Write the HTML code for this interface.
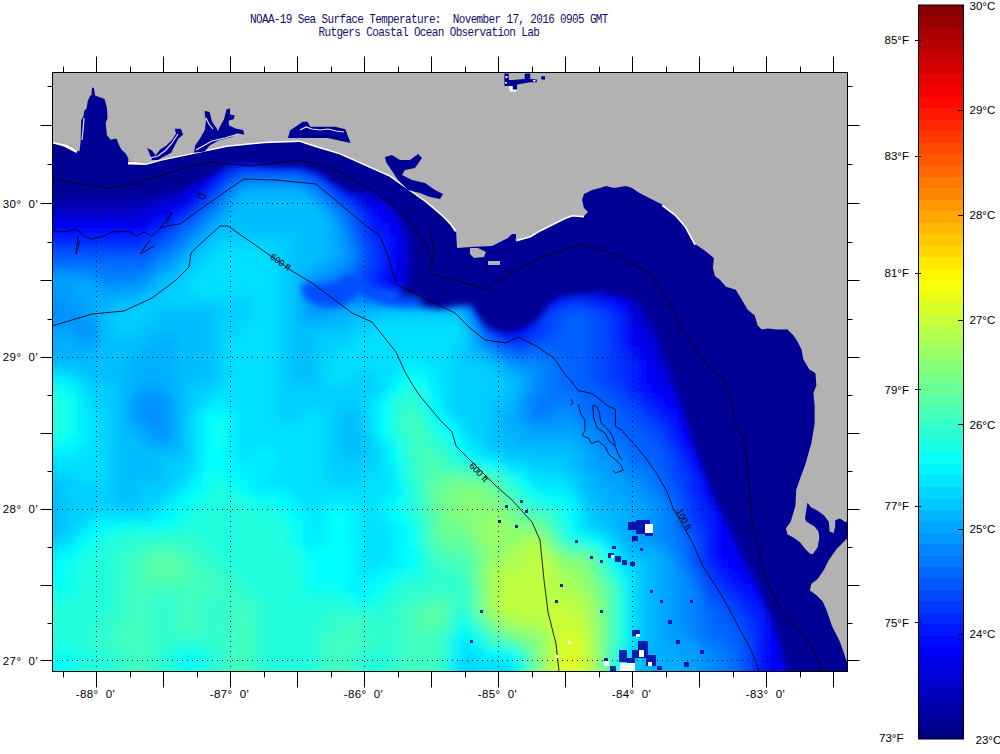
<!DOCTYPE html><html><head><meta charset="utf-8"><title>NOAA-19 SST</title><style>html,body{margin:0;padding:0;background:#fff;width:1000px;height:754px;overflow:hidden}svg{display:block}</style></head><body><svg width="1000" height="754" viewBox="0 0 1000 754"><defs><clipPath id="cp"><rect x="52.5" y="72.5" width="795" height="599"/></clipPath><filter id="bl" x="-5%" y="-5%" width="110%" height="110%"><feGaussianBlur stdDeviation="6"/></filter><filter id="bl2" x="-5%" y="-5%" width="110%" height="110%"><feGaussianBlur stdDeviation="3"/></filter></defs><rect width="1000" height="754" fill="#fff"/><g font-family="'Liberation Mono', monospace" font-size="11" fill="#10106a" letter-spacing="-0.63"><text x="250" y="23" transform="translate(0,23) scale(1,1.14) translate(0,-23)">NOAA-19 Sea Surface Temperature:&#160; November 17, 2016 0905 GMT</text><text x="318.5" y="36" transform="translate(0,36) scale(1,1.14) translate(0,-36)">Rutgers Coastal Ocean Observation Lab</text></g><g clip-path="url(#cp)"><g filter="url(#bl)"><rect x="2" y="22" width="900.5" height="13" fill="#00008f"/><rect x="2" y="34.5" width="900.5" height="13" fill="#00008f"/><rect x="2" y="47" width="900.5" height="13" fill="#00008f"/><rect x="2" y="59.5" width="900.5" height="13" fill="#00008f"/><rect x="2" y="72" width="900.5" height="13" fill="#00008f"/><rect x="2" y="84.5" width="900.5" height="13" fill="#00008f"/><rect x="2" y="97" width="900.5" height="13" fill="#00008f"/><rect x="2" y="109.5" width="900.5" height="13" fill="#00008f"/><rect x="2" y="122" width="900.5" height="13" fill="#00008f"/><rect x="2" y="134.5" width="225.5" height="13" fill="#00008f"/><rect x="227" y="134.5" width="75.5" height="13" fill="#00009f"/><rect x="302" y="134.5" width="600.5" height="13" fill="#00008f"/><rect x="2" y="147" width="213" height="13" fill="#00008f"/><rect x="214.5" y="147" width="13" height="13" fill="#00009f"/><rect x="227" y="147" width="75.5" height="13" fill="#0000af"/><rect x="302" y="147" width="13" height="13" fill="#00009f"/><rect x="314.5" y="147" width="588" height="13" fill="#00008f"/><rect x="2" y="159.5" width="175.5" height="13" fill="#00008f"/><rect x="177" y="159.5" width="25.5" height="13" fill="#00009f"/><rect x="202" y="159.5" width="13" height="13" fill="#0000af"/><rect x="214.5" y="159.5" width="13" height="13" fill="#0000bf"/><rect x="227" y="159.5" width="13" height="13" fill="#0000df"/><rect x="239.5" y="159.5" width="50.5" height="13" fill="#0000ff"/><rect x="289.5" y="159.5" width="13" height="13" fill="#0000ef"/><rect x="302" y="159.5" width="13" height="13" fill="#0000df"/><rect x="314.5" y="159.5" width="13" height="13" fill="#0000bf"/><rect x="327" y="159.5" width="13" height="13" fill="#0000af"/><rect x="339.5" y="159.5" width="25.5" height="13" fill="#00009f"/><rect x="364.5" y="159.5" width="538" height="13" fill="#00008f"/><rect x="2" y="172" width="163" height="13" fill="#00008f"/><rect x="164.5" y="172" width="13" height="13" fill="#00009f"/><rect x="177" y="172" width="13" height="13" fill="#0000af"/><rect x="189.5" y="172" width="13" height="13" fill="#0000bf"/><rect x="202" y="172" width="13" height="13" fill="#0000df"/><rect x="214.5" y="172" width="13" height="13" fill="#0010ff"/><rect x="227" y="172" width="13" height="13" fill="#0050ff"/><rect x="239.5" y="172" width="63" height="13" fill="#0070ff"/><rect x="302" y="172" width="13" height="13" fill="#0050ff"/><rect x="314.5" y="172" width="13" height="13" fill="#0030ff"/><rect x="327" y="172" width="13" height="13" fill="#0000ef"/><rect x="339.5" y="172" width="13" height="13" fill="#0000bf"/><rect x="352" y="172" width="13" height="13" fill="#00009f"/><rect x="364.5" y="172" width="538" height="13" fill="#00008f"/><rect x="2" y="184.5" width="163" height="13" fill="#00009f"/><rect x="164.5" y="184.5" width="13" height="13" fill="#0000af"/><rect x="177" y="184.5" width="13" height="13" fill="#0000bf"/><rect x="189.5" y="184.5" width="13" height="13" fill="#0000ef"/><rect x="202" y="184.5" width="13" height="13" fill="#0010ff"/><rect x="214.5" y="184.5" width="13" height="13" fill="#0050ff"/><rect x="227" y="184.5" width="13" height="13" fill="#008fff"/><rect x="239.5" y="184.5" width="63" height="13" fill="#00afff"/><rect x="302" y="184.5" width="13" height="13" fill="#009fff"/><rect x="314.5" y="184.5" width="13" height="13" fill="#0070ff"/><rect x="327" y="184.5" width="13" height="13" fill="#0030ff"/><rect x="339.5" y="184.5" width="13" height="13" fill="#0000ff"/><rect x="352" y="184.5" width="13" height="13" fill="#0000cf"/><rect x="364.5" y="184.5" width="25.5" height="13" fill="#0000af"/><rect x="389.5" y="184.5" width="25.5" height="13" fill="#00009f"/><rect x="414.5" y="184.5" width="488" height="13" fill="#00008f"/><rect x="2" y="197" width="138" height="13" fill="#0000af"/><rect x="139.5" y="197" width="13" height="13" fill="#0000bf"/><rect x="152" y="197" width="13" height="13" fill="#0000cf"/><rect x="164.5" y="197" width="13" height="13" fill="#0000df"/><rect x="177" y="197" width="13" height="13" fill="#0000ef"/><rect x="189.5" y="197" width="13" height="13" fill="#0010ff"/><rect x="202" y="197" width="13" height="13" fill="#0050ff"/><rect x="214.5" y="197" width="13" height="13" fill="#0080ff"/><rect x="227" y="197" width="13" height="13" fill="#00afff"/><rect x="239.5" y="197" width="75.5" height="13" fill="#00bfff"/><rect x="314.5" y="197" width="13" height="13" fill="#009fff"/><rect x="327" y="197" width="13" height="13" fill="#0070ff"/><rect x="339.5" y="197" width="13" height="13" fill="#0040ff"/><rect x="352" y="197" width="13" height="13" fill="#0010ff"/><rect x="364.5" y="197" width="13" height="13" fill="#0000ef"/><rect x="377" y="197" width="13" height="13" fill="#0000df"/><rect x="389.5" y="197" width="13" height="13" fill="#0000bf"/><rect x="402" y="197" width="13" height="13" fill="#00009f"/><rect x="414.5" y="197" width="488" height="13" fill="#00008f"/><rect x="2" y="209.5" width="138" height="13" fill="#0000cf"/><rect x="139.5" y="209.5" width="13" height="13" fill="#0000df"/><rect x="152" y="209.5" width="13" height="13" fill="#0000ef"/><rect x="164.5" y="209.5" width="13" height="13" fill="#0000ff"/><rect x="177" y="209.5" width="13" height="13" fill="#0020ff"/><rect x="189.5" y="209.5" width="13" height="13" fill="#0050ff"/><rect x="202" y="209.5" width="13" height="13" fill="#0080ff"/><rect x="214.5" y="209.5" width="13" height="13" fill="#009fff"/><rect x="227" y="209.5" width="100.5" height="13" fill="#00bfff"/><rect x="327" y="209.5" width="13" height="13" fill="#009fff"/><rect x="339.5" y="209.5" width="13" height="13" fill="#0070ff"/><rect x="352" y="209.5" width="13" height="13" fill="#0040ff"/><rect x="364.5" y="209.5" width="13" height="13" fill="#0010ff"/><rect x="377" y="209.5" width="13" height="13" fill="#0000ff"/><rect x="389.5" y="209.5" width="13" height="13" fill="#0000df"/><rect x="402" y="209.5" width="13" height="13" fill="#0000af"/><rect x="414.5" y="209.5" width="13" height="13" fill="#00009f"/><rect x="427" y="209.5" width="475.5" height="13" fill="#00008f"/><rect x="2" y="222" width="150.5" height="13" fill="#0000ff"/><rect x="152" y="222" width="13" height="13" fill="#0020ff"/><rect x="164.5" y="222" width="13" height="13" fill="#0030ff"/><rect x="177" y="222" width="13" height="13" fill="#0060ff"/><rect x="189.5" y="222" width="13" height="13" fill="#0080ff"/><rect x="202" y="222" width="13" height="13" fill="#009fff"/><rect x="214.5" y="222" width="113" height="13" fill="#00bfff"/><rect x="327" y="222" width="13" height="13" fill="#00afff"/><rect x="339.5" y="222" width="13" height="13" fill="#0080ff"/><rect x="352" y="222" width="13" height="13" fill="#0050ff"/><rect x="364.5" y="222" width="13" height="13" fill="#0020ff"/><rect x="377" y="222" width="13" height="13" fill="#0010ff"/><rect x="389.5" y="222" width="13" height="13" fill="#0000ef"/><rect x="402" y="222" width="13" height="13" fill="#0000bf"/><rect x="414.5" y="222" width="13" height="13" fill="#0000af"/><rect x="427" y="222" width="13" height="13" fill="#00009f"/><rect x="439.5" y="222" width="463" height="13" fill="#00008f"/><rect x="2" y="234.5" width="138" height="13" fill="#0020ff"/><rect x="139.5" y="234.5" width="13" height="13" fill="#0030ff"/><rect x="152" y="234.5" width="13" height="13" fill="#0040ff"/><rect x="164.5" y="234.5" width="13" height="13" fill="#0060ff"/><rect x="177" y="234.5" width="13" height="13" fill="#0080ff"/><rect x="189.5" y="234.5" width="13" height="13" fill="#009fff"/><rect x="202" y="234.5" width="13" height="13" fill="#00bfff"/><rect x="214.5" y="234.5" width="75.5" height="13" fill="#00cfff"/><rect x="289.5" y="234.5" width="38" height="13" fill="#00bfff"/><rect x="327" y="234.5" width="13" height="13" fill="#00afff"/><rect x="339.5" y="234.5" width="13" height="13" fill="#008fff"/><rect x="352" y="234.5" width="13" height="13" fill="#0060ff"/><rect x="364.5" y="234.5" width="13" height="13" fill="#0030ff"/><rect x="377" y="234.5" width="13" height="13" fill="#0020ff"/><rect x="389.5" y="234.5" width="13" height="13" fill="#0000ff"/><rect x="402" y="234.5" width="13" height="13" fill="#0000cf"/><rect x="414.5" y="234.5" width="13" height="13" fill="#0000af"/><rect x="427" y="234.5" width="13" height="13" fill="#00009f"/><rect x="439.5" y="234.5" width="463" height="13" fill="#00008f"/><rect x="2" y="247" width="150.5" height="13" fill="#0050ff"/><rect x="152" y="247" width="13" height="13" fill="#0070ff"/><rect x="164.5" y="247" width="13" height="13" fill="#0080ff"/><rect x="177" y="247" width="13" height="13" fill="#009fff"/><rect x="189.5" y="247" width="13" height="13" fill="#00bfff"/><rect x="202" y="247" width="13" height="13" fill="#00cfff"/><rect x="214.5" y="247" width="50.5" height="13" fill="#00dfff"/><rect x="264.5" y="247" width="25.5" height="13" fill="#00cfff"/><rect x="289.5" y="247" width="38" height="13" fill="#00bfff"/><rect x="327" y="247" width="13" height="13" fill="#00afff"/><rect x="339.5" y="247" width="13" height="13" fill="#009fff"/><rect x="352" y="247" width="13" height="13" fill="#0070ff"/><rect x="364.5" y="247" width="13" height="13" fill="#0040ff"/><rect x="377" y="247" width="13" height="13" fill="#0020ff"/><rect x="389.5" y="247" width="13" height="13" fill="#0000ff"/><rect x="402" y="247" width="13" height="13" fill="#0000cf"/><rect x="414.5" y="247" width="13" height="13" fill="#0000af"/><rect x="427" y="247" width="13" height="13" fill="#00009f"/><rect x="439.5" y="247" width="463" height="13" fill="#00008f"/><rect x="2" y="259.5" width="150.5" height="13" fill="#0070ff"/><rect x="152" y="259.5" width="13" height="13" fill="#008fff"/><rect x="164.5" y="259.5" width="13" height="13" fill="#009fff"/><rect x="177" y="259.5" width="13" height="13" fill="#00bfff"/><rect x="189.5" y="259.5" width="13" height="13" fill="#00cfff"/><rect x="202" y="259.5" width="75.5" height="13" fill="#00dfff"/><rect x="277" y="259.5" width="13" height="13" fill="#00cfff"/><rect x="289.5" y="259.5" width="25.5" height="13" fill="#00bfff"/><rect x="314.5" y="259.5" width="13" height="13" fill="#00afff"/><rect x="327" y="259.5" width="13" height="13" fill="#009fff"/><rect x="339.5" y="259.5" width="13" height="13" fill="#008fff"/><rect x="352" y="259.5" width="13" height="13" fill="#0060ff"/><rect x="364.5" y="259.5" width="13" height="13" fill="#0040ff"/><rect x="377" y="259.5" width="13" height="13" fill="#0020ff"/><rect x="389.5" y="259.5" width="13" height="13" fill="#0000ef"/><rect x="402" y="259.5" width="13" height="13" fill="#0000cf"/><rect x="414.5" y="259.5" width="13" height="13" fill="#0000af"/><rect x="427" y="259.5" width="13" height="13" fill="#00009f"/><rect x="439.5" y="259.5" width="463" height="13" fill="#00008f"/><rect x="2" y="272" width="88" height="13" fill="#009fff"/><rect x="89.5" y="272" width="13" height="13" fill="#008fff"/><rect x="102" y="272" width="38" height="13" fill="#0080ff"/><rect x="139.5" y="272" width="13" height="13" fill="#008fff"/><rect x="152" y="272" width="13" height="13" fill="#00afff"/><rect x="164.5" y="272" width="13" height="13" fill="#00bfff"/><rect x="177" y="272" width="13" height="13" fill="#00cfff"/><rect x="189.5" y="272" width="88" height="13" fill="#00dfff"/><rect x="277" y="272" width="13" height="13" fill="#00cfff"/><rect x="289.5" y="272" width="13" height="13" fill="#00bfff"/><rect x="302" y="272" width="13" height="13" fill="#009fff"/><rect x="314.5" y="272" width="13" height="13" fill="#008fff"/><rect x="327" y="272" width="13" height="13" fill="#0080ff"/><rect x="339.5" y="272" width="13" height="13" fill="#0070ff"/><rect x="352" y="272" width="13" height="13" fill="#0050ff"/><rect x="364.5" y="272" width="13" height="13" fill="#0030ff"/><rect x="377" y="272" width="13" height="13" fill="#0000ff"/><rect x="389.5" y="272" width="13" height="13" fill="#0000df"/><rect x="402" y="272" width="13" height="13" fill="#0000cf"/><rect x="414.5" y="272" width="13" height="13" fill="#0000af"/><rect x="427" y="272" width="13" height="13" fill="#00009f"/><rect x="439.5" y="272" width="463" height="13" fill="#00008f"/><rect x="2" y="284.5" width="75.5" height="13" fill="#009fff"/><rect x="77" y="284.5" width="25.5" height="13" fill="#00afff"/><rect x="102" y="284.5" width="38" height="13" fill="#009fff"/><rect x="139.5" y="284.5" width="13" height="13" fill="#00afff"/><rect x="152" y="284.5" width="13" height="13" fill="#00bfff"/><rect x="164.5" y="284.5" width="25.5" height="13" fill="#00cfff"/><rect x="189.5" y="284.5" width="88" height="13" fill="#00dfff"/><rect x="277" y="284.5" width="13" height="13" fill="#00cfff"/><rect x="289.5" y="284.5" width="13" height="13" fill="#00bfff"/><rect x="302" y="284.5" width="13" height="13" fill="#009fff"/><rect x="314.5" y="284.5" width="25.5" height="13" fill="#0080ff"/><rect x="339.5" y="284.5" width="13" height="13" fill="#0070ff"/><rect x="352" y="284.5" width="13" height="13" fill="#0060ff"/><rect x="364.5" y="284.5" width="13" height="13" fill="#0040ff"/><rect x="377" y="284.5" width="13" height="13" fill="#0030ff"/><rect x="389.5" y="284.5" width="13" height="13" fill="#0010ff"/><rect x="402" y="284.5" width="25.5" height="13" fill="#0000ff"/><rect x="427" y="284.5" width="13" height="13" fill="#0000ef"/><rect x="439.5" y="284.5" width="25.5" height="13" fill="#0000df"/><rect x="464.5" y="284.5" width="13" height="13" fill="#0000cf"/><rect x="477" y="284.5" width="13" height="13" fill="#0000af"/><rect x="489.5" y="284.5" width="38" height="13" fill="#00009f"/><rect x="527" y="284.5" width="13" height="13" fill="#0000af"/><rect x="539.5" y="284.5" width="75.5" height="13" fill="#0000bf"/><rect x="614.5" y="284.5" width="13" height="13" fill="#0000af"/><rect x="627" y="284.5" width="25.5" height="13" fill="#00009f"/><rect x="652" y="284.5" width="250.5" height="13" fill="#00008f"/><rect x="2" y="297" width="63" height="13" fill="#008fff"/><rect x="64.5" y="297" width="25.5" height="13" fill="#009fff"/><rect x="89.5" y="297" width="25.5" height="13" fill="#00afff"/><rect x="114.5" y="297" width="25.5" height="13" fill="#00bfff"/><rect x="139.5" y="297" width="113" height="13" fill="#00cfff"/><rect x="252" y="297" width="25.5" height="13" fill="#00dfff"/><rect x="277" y="297" width="13" height="13" fill="#00cfff"/><rect x="289.5" y="297" width="13" height="13" fill="#00bfff"/><rect x="302" y="297" width="13" height="13" fill="#009fff"/><rect x="314.5" y="297" width="25.5" height="13" fill="#008fff"/><rect x="339.5" y="297" width="13" height="13" fill="#009fff"/><rect x="352" y="297" width="50.5" height="13" fill="#008fff"/><rect x="402" y="297" width="63" height="13" fill="#0080ff"/><rect x="464.5" y="297" width="13" height="13" fill="#0050ff"/><rect x="477" y="297" width="13" height="13" fill="#0000df"/><rect x="489.5" y="297" width="25.5" height="13" fill="#0000af"/><rect x="514.5" y="297" width="13" height="13" fill="#0000cf"/><rect x="527" y="297" width="13" height="13" fill="#0000ff"/><rect x="539.5" y="297" width="13" height="13" fill="#0010ff"/><rect x="552" y="297" width="13" height="13" fill="#0020ff"/><rect x="564.5" y="297" width="25.5" height="13" fill="#0030ff"/><rect x="589.5" y="297" width="13" height="13" fill="#0020ff"/><rect x="602" y="297" width="13" height="13" fill="#0010ff"/><rect x="614.5" y="297" width="13" height="13" fill="#0000ff"/><rect x="627" y="297" width="13" height="13" fill="#0000cf"/><rect x="639.5" y="297" width="13" height="13" fill="#0000af"/><rect x="652" y="297" width="13" height="13" fill="#00009f"/><rect x="664.5" y="297" width="238" height="13" fill="#00008f"/><rect x="2" y="309.5" width="75.5" height="13" fill="#008fff"/><rect x="77" y="309.5" width="13" height="13" fill="#009fff"/><rect x="89.5" y="309.5" width="13" height="13" fill="#00afff"/><rect x="102" y="309.5" width="13" height="13" fill="#00bfff"/><rect x="114.5" y="309.5" width="38" height="13" fill="#00cfff"/><rect x="152" y="309.5" width="63" height="13" fill="#00bfff"/><rect x="214.5" y="309.5" width="38" height="13" fill="#00cfff"/><rect x="252" y="309.5" width="25.5" height="13" fill="#00dfff"/><rect x="277" y="309.5" width="13" height="13" fill="#00cfff"/><rect x="289.5" y="309.5" width="13" height="13" fill="#00bfff"/><rect x="302" y="309.5" width="25.5" height="13" fill="#009fff"/><rect x="327" y="309.5" width="25.5" height="13" fill="#00afff"/><rect x="352" y="309.5" width="25.5" height="13" fill="#00bfff"/><rect x="377" y="309.5" width="88" height="13" fill="#00cfff"/><rect x="464.5" y="309.5" width="13" height="13" fill="#008fff"/><rect x="477" y="309.5" width="13" height="13" fill="#0020ff"/><rect x="489.5" y="309.5" width="25.5" height="13" fill="#0000cf"/><rect x="514.5" y="309.5" width="13" height="13" fill="#0000df"/><rect x="527" y="309.5" width="13" height="13" fill="#0020ff"/><rect x="539.5" y="309.5" width="13" height="13" fill="#0040ff"/><rect x="552" y="309.5" width="13" height="13" fill="#0050ff"/><rect x="564.5" y="309.5" width="25.5" height="13" fill="#0060ff"/><rect x="589.5" y="309.5" width="13" height="13" fill="#0050ff"/><rect x="602" y="309.5" width="13" height="13" fill="#0040ff"/><rect x="614.5" y="309.5" width="13" height="13" fill="#0020ff"/><rect x="627" y="309.5" width="13" height="13" fill="#0000df"/><rect x="639.5" y="309.5" width="13" height="13" fill="#0000bf"/><rect x="652" y="309.5" width="13" height="13" fill="#0000af"/><rect x="664.5" y="309.5" width="13" height="13" fill="#00009f"/><rect x="677" y="309.5" width="225.5" height="13" fill="#00008f"/><rect x="2" y="322" width="75.5" height="13" fill="#009fff"/><rect x="77" y="322" width="13" height="13" fill="#008fff"/><rect x="89.5" y="322" width="13" height="13" fill="#009fff"/><rect x="102" y="322" width="13" height="13" fill="#00bfff"/><rect x="114.5" y="322" width="25.5" height="13" fill="#00cfff"/><rect x="139.5" y="322" width="75.5" height="13" fill="#00bfff"/><rect x="214.5" y="322" width="25.5" height="13" fill="#00cfff"/><rect x="239.5" y="322" width="38" height="13" fill="#00dfff"/><rect x="277" y="322" width="13" height="13" fill="#00cfff"/><rect x="289.5" y="322" width="63" height="13" fill="#00bfff"/><rect x="352" y="322" width="25.5" height="13" fill="#00cfff"/><rect x="377" y="322" width="88" height="13" fill="#00dfff"/><rect x="464.5" y="322" width="13" height="13" fill="#00afff"/><rect x="477" y="322" width="13" height="13" fill="#0050ff"/><rect x="489.5" y="322" width="13" height="13" fill="#0010ff"/><rect x="502" y="322" width="25.5" height="13" fill="#0000ef"/><rect x="527" y="322" width="13" height="13" fill="#0020ff"/><rect x="539.5" y="322" width="13" height="13" fill="#0040ff"/><rect x="552" y="322" width="13" height="13" fill="#0050ff"/><rect x="564.5" y="322" width="25.5" height="13" fill="#0060ff"/><rect x="589.5" y="322" width="13" height="13" fill="#0050ff"/><rect x="602" y="322" width="13" height="13" fill="#0040ff"/><rect x="614.5" y="322" width="13" height="13" fill="#0020ff"/><rect x="627" y="322" width="13" height="13" fill="#0000ef"/><rect x="639.5" y="322" width="13" height="13" fill="#0000cf"/><rect x="652" y="322" width="13" height="13" fill="#0000bf"/><rect x="664.5" y="322" width="13" height="13" fill="#0000af"/><rect x="677" y="322" width="13" height="13" fill="#00009f"/><rect x="689.5" y="322" width="213" height="13" fill="#00008f"/><rect x="2" y="334.5" width="75.5" height="13" fill="#00afff"/><rect x="77" y="334.5" width="25.5" height="13" fill="#009fff"/><rect x="102" y="334.5" width="50.5" height="13" fill="#00bfff"/><rect x="152" y="334.5" width="25.5" height="13" fill="#00afff"/><rect x="177" y="334.5" width="38" height="13" fill="#00bfff"/><rect x="214.5" y="334.5" width="13" height="13" fill="#00cfff"/><rect x="227" y="334.5" width="50.5" height="13" fill="#00dfff"/><rect x="277" y="334.5" width="13" height="13" fill="#00cfff"/><rect x="289.5" y="334.5" width="25.5" height="13" fill="#00bfff"/><rect x="314.5" y="334.5" width="38" height="13" fill="#00cfff"/><rect x="352" y="334.5" width="113" height="13" fill="#00dfff"/><rect x="464.5" y="334.5" width="13" height="13" fill="#00bfff"/><rect x="477" y="334.5" width="13" height="13" fill="#0080ff"/><rect x="489.5" y="334.5" width="13" height="13" fill="#0050ff"/><rect x="502" y="334.5" width="25.5" height="13" fill="#0020ff"/><rect x="527" y="334.5" width="13" height="13" fill="#0040ff"/><rect x="539.5" y="334.5" width="13" height="13" fill="#0050ff"/><rect x="552" y="334.5" width="38" height="13" fill="#0060ff"/><rect x="589.5" y="334.5" width="13" height="13" fill="#0050ff"/><rect x="602" y="334.5" width="13" height="13" fill="#0040ff"/><rect x="614.5" y="334.5" width="13" height="13" fill="#0020ff"/><rect x="627" y="334.5" width="13" height="13" fill="#0000ff"/><rect x="639.5" y="334.5" width="13" height="13" fill="#0000df"/><rect x="652" y="334.5" width="13" height="13" fill="#0000cf"/><rect x="664.5" y="334.5" width="13" height="13" fill="#0000af"/><rect x="677" y="334.5" width="13" height="13" fill="#00009f"/><rect x="689.5" y="334.5" width="213" height="13" fill="#00008f"/><rect x="2" y="347" width="88" height="13" fill="#00afff"/><rect x="89.5" y="347" width="50.5" height="13" fill="#00bfff"/><rect x="139.5" y="347" width="38" height="13" fill="#00afff"/><rect x="177" y="347" width="38" height="13" fill="#00bfff"/><rect x="214.5" y="347" width="13" height="13" fill="#00cfff"/><rect x="227" y="347" width="50.5" height="13" fill="#00dfff"/><rect x="277" y="347" width="13" height="13" fill="#00cfff"/><rect x="289.5" y="347" width="25.5" height="13" fill="#00bfff"/><rect x="314.5" y="347" width="25.5" height="13" fill="#00cfff"/><rect x="339.5" y="347" width="113" height="13" fill="#00dfff"/><rect x="452" y="347" width="13" height="13" fill="#00cfff"/><rect x="464.5" y="347" width="13" height="13" fill="#00bfff"/><rect x="477" y="347" width="13" height="13" fill="#00afff"/><rect x="489.5" y="347" width="13" height="13" fill="#008fff"/><rect x="502" y="347" width="13" height="13" fill="#0070ff"/><rect x="514.5" y="347" width="13" height="13" fill="#0060ff"/><rect x="527" y="347" width="25.5" height="13" fill="#0070ff"/><rect x="552" y="347" width="38" height="13" fill="#0060ff"/><rect x="589.5" y="347" width="13" height="13" fill="#0050ff"/><rect x="602" y="347" width="13" height="13" fill="#0040ff"/><rect x="614.5" y="347" width="13" height="13" fill="#0030ff"/><rect x="627" y="347" width="13" height="13" fill="#0010ff"/><rect x="639.5" y="347" width="13" height="13" fill="#0000ef"/><rect x="652" y="347" width="13" height="13" fill="#0000cf"/><rect x="664.5" y="347" width="13" height="13" fill="#0000af"/><rect x="677" y="347" width="13" height="13" fill="#00009f"/><rect x="689.5" y="347" width="213" height="13" fill="#00008f"/><rect x="2" y="359.5" width="125.5" height="13" fill="#00bfff"/><rect x="127" y="359.5" width="50.5" height="13" fill="#00afff"/><rect x="177" y="359.5" width="38" height="13" fill="#00bfff"/><rect x="214.5" y="359.5" width="13" height="13" fill="#00cfff"/><rect x="227" y="359.5" width="50.5" height="13" fill="#00dfff"/><rect x="277" y="359.5" width="13" height="13" fill="#00cfff"/><rect x="289.5" y="359.5" width="25.5" height="13" fill="#00bfff"/><rect x="314.5" y="359.5" width="13" height="13" fill="#00cfff"/><rect x="327" y="359.5" width="75.5" height="13" fill="#00dfff"/><rect x="402" y="359.5" width="25.5" height="13" fill="#00efff"/><rect x="427" y="359.5" width="25.5" height="13" fill="#00dfff"/><rect x="452" y="359.5" width="38" height="13" fill="#00cfff"/><rect x="489.5" y="359.5" width="13" height="13" fill="#00bfff"/><rect x="502" y="359.5" width="13" height="13" fill="#009fff"/><rect x="514.5" y="359.5" width="25.5" height="13" fill="#008fff"/><rect x="539.5" y="359.5" width="13" height="13" fill="#0080ff"/><rect x="552" y="359.5" width="13" height="13" fill="#0070ff"/><rect x="564.5" y="359.5" width="25.5" height="13" fill="#0060ff"/><rect x="589.5" y="359.5" width="13" height="13" fill="#0050ff"/><rect x="602" y="359.5" width="13" height="13" fill="#0040ff"/><rect x="614.5" y="359.5" width="13" height="13" fill="#0030ff"/><rect x="627" y="359.5" width="13" height="13" fill="#0020ff"/><rect x="639.5" y="359.5" width="13" height="13" fill="#0000ff"/><rect x="652" y="359.5" width="13" height="13" fill="#0000df"/><rect x="664.5" y="359.5" width="13" height="13" fill="#0000bf"/><rect x="677" y="359.5" width="13" height="13" fill="#0000af"/><rect x="689.5" y="359.5" width="13" height="13" fill="#00009f"/><rect x="702" y="359.5" width="200.5" height="13" fill="#00008f"/><rect x="2" y="372" width="63" height="13" fill="#00efff"/><rect x="64.5" y="372" width="13" height="13" fill="#00dfff"/><rect x="77" y="372" width="13" height="13" fill="#00cfff"/><rect x="89.5" y="372" width="38" height="13" fill="#00bfff"/><rect x="127" y="372" width="50.5" height="13" fill="#00afff"/><rect x="177" y="372" width="38" height="13" fill="#00bfff"/><rect x="214.5" y="372" width="13" height="13" fill="#00cfff"/><rect x="227" y="372" width="50.5" height="13" fill="#00dfff"/><rect x="277" y="372" width="13" height="13" fill="#00cfff"/><rect x="289.5" y="372" width="25.5" height="13" fill="#00bfff"/><rect x="314.5" y="372" width="13" height="13" fill="#00cfff"/><rect x="327" y="372" width="25.5" height="13" fill="#00dfff"/><rect x="352" y="372" width="25.5" height="13" fill="#00cfff"/><rect x="377" y="372" width="13" height="13" fill="#00dfff"/><rect x="389.5" y="372" width="13" height="13" fill="#00efff"/><rect x="402" y="372" width="25.5" height="13" fill="#00ffff"/><rect x="427" y="372" width="13" height="13" fill="#00efff"/><rect x="439.5" y="372" width="13" height="13" fill="#00dfff"/><rect x="452" y="372" width="50.5" height="13" fill="#00cfff"/><rect x="502" y="372" width="13" height="13" fill="#00bfff"/><rect x="514.5" y="372" width="13" height="13" fill="#00afff"/><rect x="527" y="372" width="13" height="13" fill="#008fff"/><rect x="539.5" y="372" width="13" height="13" fill="#0080ff"/><rect x="552" y="372" width="13" height="13" fill="#0070ff"/><rect x="564.5" y="372" width="25.5" height="13" fill="#0060ff"/><rect x="589.5" y="372" width="13" height="13" fill="#0050ff"/><rect x="602" y="372" width="13" height="13" fill="#0040ff"/><rect x="614.5" y="372" width="13" height="13" fill="#0030ff"/><rect x="627" y="372" width="13" height="13" fill="#0020ff"/><rect x="639.5" y="372" width="13" height="13" fill="#0000ff"/><rect x="652" y="372" width="13" height="13" fill="#0000ef"/><rect x="664.5" y="372" width="13" height="13" fill="#0000cf"/><rect x="677" y="372" width="13" height="13" fill="#0000bf"/><rect x="689.5" y="372" width="13" height="13" fill="#0000af"/><rect x="702" y="372" width="13" height="13" fill="#00009f"/><rect x="714.5" y="372" width="188" height="13" fill="#00008f"/><rect x="2" y="384.5" width="63" height="13" fill="#10ffef"/><rect x="64.5" y="384.5" width="13" height="13" fill="#00ffff"/><rect x="77" y="384.5" width="13" height="13" fill="#00dfff"/><rect x="89.5" y="384.5" width="25.5" height="13" fill="#00cfff"/><rect x="114.5" y="384.5" width="13" height="13" fill="#00bfff"/><rect x="127" y="384.5" width="13" height="13" fill="#00afff"/><rect x="139.5" y="384.5" width="25.5" height="13" fill="#009fff"/><rect x="164.5" y="384.5" width="13" height="13" fill="#00afff"/><rect x="177" y="384.5" width="13" height="13" fill="#00bfff"/><rect x="189.5" y="384.5" width="25.5" height="13" fill="#00cfff"/><rect x="214.5" y="384.5" width="63" height="13" fill="#00dfff"/><rect x="277" y="384.5" width="100.5" height="13" fill="#00cfff"/><rect x="377" y="384.5" width="13" height="13" fill="#00dfff"/><rect x="389.5" y="384.5" width="13" height="13" fill="#00ffff"/><rect x="402" y="384.5" width="25.5" height="13" fill="#20ffdf"/><rect x="427" y="384.5" width="13" height="13" fill="#00efff"/><rect x="439.5" y="384.5" width="13" height="13" fill="#00dfff"/><rect x="452" y="384.5" width="50.5" height="13" fill="#00cfff"/><rect x="502" y="384.5" width="13" height="13" fill="#00bfff"/><rect x="514.5" y="384.5" width="13" height="13" fill="#00afff"/><rect x="527" y="384.5" width="13" height="13" fill="#008fff"/><rect x="539.5" y="384.5" width="13" height="13" fill="#0080ff"/><rect x="552" y="384.5" width="25.5" height="13" fill="#0070ff"/><rect x="577" y="384.5" width="25.5" height="13" fill="#0060ff"/><rect x="602" y="384.5" width="13" height="13" fill="#0050ff"/><rect x="614.5" y="384.5" width="13" height="13" fill="#0040ff"/><rect x="627" y="384.5" width="13" height="13" fill="#0020ff"/><rect x="639.5" y="384.5" width="13" height="13" fill="#0010ff"/><rect x="652" y="384.5" width="13" height="13" fill="#0000ff"/><rect x="664.5" y="384.5" width="13" height="13" fill="#0000df"/><rect x="677" y="384.5" width="13" height="13" fill="#0000cf"/><rect x="689.5" y="384.5" width="13" height="13" fill="#0000bf"/><rect x="702" y="384.5" width="13" height="13" fill="#0000af"/><rect x="714.5" y="384.5" width="13" height="13" fill="#00009f"/><rect x="727" y="384.5" width="175.5" height="13" fill="#00008f"/><rect x="2" y="397" width="63" height="13" fill="#20ffdf"/><rect x="64.5" y="397" width="13" height="13" fill="#10ffef"/><rect x="77" y="397" width="13" height="13" fill="#00efff"/><rect x="89.5" y="397" width="25.5" height="13" fill="#00cfff"/><rect x="114.5" y="397" width="13" height="13" fill="#00bfff"/><rect x="127" y="397" width="13" height="13" fill="#009fff"/><rect x="139.5" y="397" width="25.5" height="13" fill="#008fff"/><rect x="164.5" y="397" width="13" height="13" fill="#009fff"/><rect x="177" y="397" width="13" height="13" fill="#00bfff"/><rect x="189.5" y="397" width="13" height="13" fill="#00cfff"/><rect x="202" y="397" width="13" height="13" fill="#00dfff"/><rect x="214.5" y="397" width="13" height="13" fill="#00efff"/><rect x="227" y="397" width="50.5" height="13" fill="#00dfff"/><rect x="277" y="397" width="88" height="13" fill="#00cfff"/><rect x="364.5" y="397" width="13" height="13" fill="#00dfff"/><rect x="377" y="397" width="13" height="13" fill="#00ffff"/><rect x="389.5" y="397" width="13" height="13" fill="#20ffdf"/><rect x="402" y="397" width="13" height="13" fill="#30ffcf"/><rect x="414.5" y="397" width="13" height="13" fill="#20ffdf"/><rect x="427" y="397" width="13" height="13" fill="#00ffff"/><rect x="439.5" y="397" width="13" height="13" fill="#00dfff"/><rect x="452" y="397" width="38" height="13" fill="#00cfff"/><rect x="489.5" y="397" width="25.5" height="13" fill="#00bfff"/><rect x="514.5" y="397" width="13" height="13" fill="#009fff"/><rect x="527" y="397" width="13" height="13" fill="#0080ff"/><rect x="539.5" y="397" width="13" height="13" fill="#0070ff"/><rect x="552" y="397" width="25.5" height="13" fill="#0080ff"/><rect x="577" y="397" width="13" height="13" fill="#0070ff"/><rect x="589.5" y="397" width="25.5" height="13" fill="#0060ff"/><rect x="614.5" y="397" width="13" height="13" fill="#0050ff"/><rect x="627" y="397" width="13" height="13" fill="#0040ff"/><rect x="639.5" y="397" width="13" height="13" fill="#0020ff"/><rect x="652" y="397" width="13" height="13" fill="#0010ff"/><rect x="664.5" y="397" width="13" height="13" fill="#0000ff"/><rect x="677" y="397" width="13" height="13" fill="#0000df"/><rect x="689.5" y="397" width="13" height="13" fill="#0000cf"/><rect x="702" y="397" width="13" height="13" fill="#0000bf"/><rect x="714.5" y="397" width="13" height="13" fill="#0000af"/><rect x="727" y="397" width="13" height="13" fill="#00009f"/><rect x="739.5" y="397" width="163" height="13" fill="#00008f"/><rect x="2" y="409.5" width="63" height="13" fill="#20ffdf"/><rect x="64.5" y="409.5" width="13" height="13" fill="#10ffef"/><rect x="77" y="409.5" width="13" height="13" fill="#00efff"/><rect x="89.5" y="409.5" width="13" height="13" fill="#00dfff"/><rect x="102" y="409.5" width="13" height="13" fill="#00cfff"/><rect x="114.5" y="409.5" width="13" height="13" fill="#00bfff"/><rect x="127" y="409.5" width="13" height="13" fill="#009fff"/><rect x="139.5" y="409.5" width="25.5" height="13" fill="#008fff"/><rect x="164.5" y="409.5" width="13" height="13" fill="#009fff"/><rect x="177" y="409.5" width="13" height="13" fill="#00bfff"/><rect x="189.5" y="409.5" width="13" height="13" fill="#00dfff"/><rect x="202" y="409.5" width="25.5" height="13" fill="#00ffff"/><rect x="227" y="409.5" width="13" height="13" fill="#00efff"/><rect x="239.5" y="409.5" width="38" height="13" fill="#00dfff"/><rect x="277" y="409.5" width="25.5" height="13" fill="#00cfff"/><rect x="302" y="409.5" width="25.5" height="13" fill="#00dfff"/><rect x="327" y="409.5" width="13" height="13" fill="#00cfff"/><rect x="339.5" y="409.5" width="25.5" height="13" fill="#00bfff"/><rect x="364.5" y="409.5" width="13" height="13" fill="#00dfff"/><rect x="377" y="409.5" width="13" height="13" fill="#00ffff"/><rect x="389.5" y="409.5" width="13" height="13" fill="#20ffdf"/><rect x="402" y="409.5" width="13" height="13" fill="#40ffbf"/><rect x="414.5" y="409.5" width="13" height="13" fill="#30ffcf"/><rect x="427" y="409.5" width="13" height="13" fill="#00ffff"/><rect x="439.5" y="409.5" width="13" height="13" fill="#00efff"/><rect x="452" y="409.5" width="38" height="13" fill="#00cfff"/><rect x="489.5" y="409.5" width="13" height="13" fill="#00bfff"/><rect x="502" y="409.5" width="13" height="13" fill="#00afff"/><rect x="514.5" y="409.5" width="13" height="13" fill="#009fff"/><rect x="527" y="409.5" width="25.5" height="13" fill="#0080ff"/><rect x="552" y="409.5" width="25.5" height="13" fill="#008fff"/><rect x="577" y="409.5" width="25.5" height="13" fill="#0070ff"/><rect x="602" y="409.5" width="25.5" height="13" fill="#0060ff"/><rect x="627" y="409.5" width="13" height="13" fill="#0050ff"/><rect x="639.5" y="409.5" width="13" height="13" fill="#0040ff"/><rect x="652" y="409.5" width="13" height="13" fill="#0020ff"/><rect x="664.5" y="409.5" width="13" height="13" fill="#0010ff"/><rect x="677" y="409.5" width="13" height="13" fill="#0000ef"/><rect x="689.5" y="409.5" width="13" height="13" fill="#0000df"/><rect x="702" y="409.5" width="13" height="13" fill="#0000bf"/><rect x="714.5" y="409.5" width="13" height="13" fill="#0000af"/><rect x="727" y="409.5" width="13" height="13" fill="#00009f"/><rect x="739.5" y="409.5" width="163" height="13" fill="#00008f"/><rect x="2" y="422" width="63" height="13" fill="#20ffdf"/><rect x="64.5" y="422" width="13" height="13" fill="#10ffef"/><rect x="77" y="422" width="13" height="13" fill="#00efff"/><rect x="89.5" y="422" width="13" height="13" fill="#00dfff"/><rect x="102" y="422" width="13" height="13" fill="#00cfff"/><rect x="114.5" y="422" width="13" height="13" fill="#00bfff"/><rect x="127" y="422" width="13" height="13" fill="#00afff"/><rect x="139.5" y="422" width="13" height="13" fill="#009fff"/><rect x="152" y="422" width="13" height="13" fill="#008fff"/><rect x="164.5" y="422" width="13" height="13" fill="#009fff"/><rect x="177" y="422" width="13" height="13" fill="#00bfff"/><rect x="189.5" y="422" width="13" height="13" fill="#00dfff"/><rect x="202" y="422" width="13" height="13" fill="#00ffff"/><rect x="214.5" y="422" width="13" height="13" fill="#10ffef"/><rect x="227" y="422" width="13" height="13" fill="#00efff"/><rect x="239.5" y="422" width="88" height="13" fill="#00dfff"/><rect x="327" y="422" width="13" height="13" fill="#00cfff"/><rect x="339.5" y="422" width="25.5" height="13" fill="#00bfff"/><rect x="364.5" y="422" width="13" height="13" fill="#00dfff"/><rect x="377" y="422" width="13" height="13" fill="#00ffff"/><rect x="389.5" y="422" width="13" height="13" fill="#20ffdf"/><rect x="402" y="422" width="25.5" height="13" fill="#40ffbf"/><rect x="427" y="422" width="13" height="13" fill="#20ffdf"/><rect x="439.5" y="422" width="13" height="13" fill="#00ffff"/><rect x="452" y="422" width="13" height="13" fill="#00efff"/><rect x="464.5" y="422" width="25.5" height="13" fill="#00cfff"/><rect x="489.5" y="422" width="13" height="13" fill="#00bfff"/><rect x="502" y="422" width="25.5" height="13" fill="#00afff"/><rect x="527" y="422" width="50.5" height="13" fill="#009fff"/><rect x="577" y="422" width="13" height="13" fill="#008fff"/><rect x="589.5" y="422" width="13" height="13" fill="#0080ff"/><rect x="602" y="422" width="13" height="13" fill="#0070ff"/><rect x="614.5" y="422" width="25.5" height="13" fill="#0060ff"/><rect x="639.5" y="422" width="13" height="13" fill="#0050ff"/><rect x="652" y="422" width="13" height="13" fill="#0040ff"/><rect x="664.5" y="422" width="13" height="13" fill="#0020ff"/><rect x="677" y="422" width="13" height="13" fill="#0000ff"/><rect x="689.5" y="422" width="13" height="13" fill="#0000df"/><rect x="702" y="422" width="13" height="13" fill="#0000bf"/><rect x="714.5" y="422" width="13" height="13" fill="#0000af"/><rect x="727" y="422" width="13" height="13" fill="#00009f"/><rect x="739.5" y="422" width="163" height="13" fill="#00008f"/><rect x="2" y="434.5" width="63" height="13" fill="#10ffef"/><rect x="64.5" y="434.5" width="13" height="13" fill="#00ffff"/><rect x="77" y="434.5" width="13" height="13" fill="#00efff"/><rect x="89.5" y="434.5" width="13" height="13" fill="#00dfff"/><rect x="102" y="434.5" width="13" height="13" fill="#00cfff"/><rect x="114.5" y="434.5" width="25.5" height="13" fill="#00bfff"/><rect x="139.5" y="434.5" width="13" height="13" fill="#00afff"/><rect x="152" y="434.5" width="25.5" height="13" fill="#009fff"/><rect x="177" y="434.5" width="13" height="13" fill="#00bfff"/><rect x="189.5" y="434.5" width="13" height="13" fill="#00dfff"/><rect x="202" y="434.5" width="13" height="13" fill="#00ffff"/><rect x="214.5" y="434.5" width="13" height="13" fill="#10ffef"/><rect x="227" y="434.5" width="13" height="13" fill="#00efff"/><rect x="239.5" y="434.5" width="88" height="13" fill="#00dfff"/><rect x="327" y="434.5" width="13" height="13" fill="#00cfff"/><rect x="339.5" y="434.5" width="25.5" height="13" fill="#00bfff"/><rect x="364.5" y="434.5" width="13" height="13" fill="#00cfff"/><rect x="377" y="434.5" width="13" height="13" fill="#00efff"/><rect x="389.5" y="434.5" width="13" height="13" fill="#10ffef"/><rect x="402" y="434.5" width="13" height="13" fill="#30ffcf"/><rect x="414.5" y="434.5" width="13" height="13" fill="#40ffbf"/><rect x="427" y="434.5" width="13" height="13" fill="#30ffcf"/><rect x="439.5" y="434.5" width="13" height="13" fill="#20ffdf"/><rect x="452" y="434.5" width="13" height="13" fill="#00ffff"/><rect x="464.5" y="434.5" width="13" height="13" fill="#00dfff"/><rect x="477" y="434.5" width="13" height="13" fill="#00cfff"/><rect x="489.5" y="434.5" width="25.5" height="13" fill="#00bfff"/><rect x="514.5" y="434.5" width="63" height="13" fill="#00afff"/><rect x="577" y="434.5" width="13" height="13" fill="#009fff"/><rect x="589.5" y="434.5" width="13" height="13" fill="#008fff"/><rect x="602" y="434.5" width="25.5" height="13" fill="#0070ff"/><rect x="627" y="434.5" width="25.5" height="13" fill="#0060ff"/><rect x="652" y="434.5" width="13" height="13" fill="#0050ff"/><rect x="664.5" y="434.5" width="13" height="13" fill="#0030ff"/><rect x="677" y="434.5" width="13" height="13" fill="#0000ff"/><rect x="689.5" y="434.5" width="13" height="13" fill="#0000df"/><rect x="702" y="434.5" width="13" height="13" fill="#0000cf"/><rect x="714.5" y="434.5" width="13" height="13" fill="#0000af"/><rect x="727" y="434.5" width="25.5" height="13" fill="#00009f"/><rect x="752" y="434.5" width="150.5" height="13" fill="#00008f"/><rect x="2" y="447" width="75.5" height="13" fill="#00efff"/><rect x="77" y="447" width="25.5" height="13" fill="#00dfff"/><rect x="102" y="447" width="13" height="13" fill="#00cfff"/><rect x="114.5" y="447" width="75.5" height="13" fill="#00bfff"/><rect x="189.5" y="447" width="13" height="13" fill="#00dfff"/><rect x="202" y="447" width="25.5" height="13" fill="#00ffff"/><rect x="227" y="447" width="13" height="13" fill="#00efff"/><rect x="239.5" y="447" width="13" height="13" fill="#00dfff"/><rect x="252" y="447" width="25.5" height="13" fill="#00efff"/><rect x="277" y="447" width="50.5" height="13" fill="#00dfff"/><rect x="327" y="447" width="13" height="13" fill="#00cfff"/><rect x="339.5" y="447" width="25.5" height="13" fill="#00bfff"/><rect x="364.5" y="447" width="13" height="13" fill="#00cfff"/><rect x="377" y="447" width="13" height="13" fill="#00dfff"/><rect x="389.5" y="447" width="13" height="13" fill="#00ffff"/><rect x="402" y="447" width="13" height="13" fill="#30ffcf"/><rect x="414.5" y="447" width="25.5" height="13" fill="#40ffbf"/><rect x="439.5" y="447" width="13" height="13" fill="#30ffcf"/><rect x="452" y="447" width="13" height="13" fill="#10ffef"/><rect x="464.5" y="447" width="13" height="13" fill="#00efff"/><rect x="477" y="447" width="13" height="13" fill="#00dfff"/><rect x="489.5" y="447" width="13" height="13" fill="#00cfff"/><rect x="502" y="447" width="75.5" height="13" fill="#00bfff"/><rect x="577" y="447" width="13" height="13" fill="#00afff"/><rect x="589.5" y="447" width="13" height="13" fill="#009fff"/><rect x="602" y="447" width="13" height="13" fill="#008fff"/><rect x="614.5" y="447" width="13" height="13" fill="#0080ff"/><rect x="627" y="447" width="13" height="13" fill="#0070ff"/><rect x="639.5" y="447" width="25.5" height="13" fill="#0060ff"/><rect x="664.5" y="447" width="13" height="13" fill="#0040ff"/><rect x="677" y="447" width="13" height="13" fill="#0020ff"/><rect x="689.5" y="447" width="13" height="13" fill="#0000ef"/><rect x="702" y="447" width="13" height="13" fill="#0000cf"/><rect x="714.5" y="447" width="13" height="13" fill="#0000bf"/><rect x="727" y="447" width="25.5" height="13" fill="#0000af"/><rect x="752" y="447" width="13" height="13" fill="#00009f"/><rect x="764.5" y="447" width="138" height="13" fill="#00008f"/><rect x="2" y="459.5" width="100.5" height="13" fill="#00dfff"/><rect x="102" y="459.5" width="13" height="13" fill="#00cfff"/><rect x="114.5" y="459.5" width="50.5" height="13" fill="#00bfff"/><rect x="164.5" y="459.5" width="25.5" height="13" fill="#00cfff"/><rect x="189.5" y="459.5" width="13" height="13" fill="#00dfff"/><rect x="202" y="459.5" width="25.5" height="13" fill="#00ffff"/><rect x="227" y="459.5" width="50.5" height="13" fill="#00efff"/><rect x="277" y="459.5" width="50.5" height="13" fill="#00dfff"/><rect x="327" y="459.5" width="50.5" height="13" fill="#00cfff"/><rect x="377" y="459.5" width="13" height="13" fill="#00dfff"/><rect x="389.5" y="459.5" width="13" height="13" fill="#00ffff"/><rect x="402" y="459.5" width="13" height="13" fill="#20ffdf"/><rect x="414.5" y="459.5" width="13" height="13" fill="#40ffbf"/><rect x="427" y="459.5" width="13" height="13" fill="#50ffaf"/><rect x="439.5" y="459.5" width="13" height="13" fill="#40ffbf"/><rect x="452" y="459.5" width="13" height="13" fill="#30ffcf"/><rect x="464.5" y="459.5" width="13" height="13" fill="#20ffdf"/><rect x="477" y="459.5" width="13" height="13" fill="#10ffef"/><rect x="489.5" y="459.5" width="13" height="13" fill="#00ffff"/><rect x="502" y="459.5" width="25.5" height="13" fill="#00dfff"/><rect x="527" y="459.5" width="38" height="13" fill="#00cfff"/><rect x="564.5" y="459.5" width="13" height="13" fill="#00bfff"/><rect x="577" y="459.5" width="13" height="13" fill="#00afff"/><rect x="589.5" y="459.5" width="25.5" height="13" fill="#009fff"/><rect x="614.5" y="459.5" width="13" height="13" fill="#008fff"/><rect x="627" y="459.5" width="25.5" height="13" fill="#0070ff"/><rect x="652" y="459.5" width="13" height="13" fill="#0060ff"/><rect x="664.5" y="459.5" width="13" height="13" fill="#0050ff"/><rect x="677" y="459.5" width="13" height="13" fill="#0030ff"/><rect x="689.5" y="459.5" width="13" height="13" fill="#0000ff"/><rect x="702" y="459.5" width="13" height="13" fill="#0000df"/><rect x="714.5" y="459.5" width="25.5" height="13" fill="#0000bf"/><rect x="739.5" y="459.5" width="13" height="13" fill="#0000af"/><rect x="752" y="459.5" width="13" height="13" fill="#00009f"/><rect x="764.5" y="459.5" width="138" height="13" fill="#00008f"/><rect x="2" y="472" width="75.5" height="13" fill="#00cfff"/><rect x="77" y="472" width="25.5" height="13" fill="#00dfff"/><rect x="102" y="472" width="13" height="13" fill="#00cfff"/><rect x="114.5" y="472" width="50.5" height="13" fill="#00bfff"/><rect x="164.5" y="472" width="25.5" height="13" fill="#00cfff"/><rect x="189.5" y="472" width="13" height="13" fill="#00efff"/><rect x="202" y="472" width="25.5" height="13" fill="#10ffef"/><rect x="227" y="472" width="13" height="13" fill="#00ffff"/><rect x="239.5" y="472" width="25.5" height="13" fill="#00efff"/><rect x="264.5" y="472" width="63" height="13" fill="#00dfff"/><rect x="327" y="472" width="38" height="13" fill="#00cfff"/><rect x="364.5" y="472" width="25.5" height="13" fill="#00dfff"/><rect x="389.5" y="472" width="13" height="13" fill="#00efff"/><rect x="402" y="472" width="13" height="13" fill="#20ffdf"/><rect x="414.5" y="472" width="13" height="13" fill="#40ffbf"/><rect x="427" y="472" width="13" height="13" fill="#50ffaf"/><rect x="439.5" y="472" width="38" height="13" fill="#60ff9f"/><rect x="477" y="472" width="13" height="13" fill="#50ffaf"/><rect x="489.5" y="472" width="13" height="13" fill="#40ffbf"/><rect x="502" y="472" width="13" height="13" fill="#20ffdf"/><rect x="514.5" y="472" width="13" height="13" fill="#00ffff"/><rect x="527" y="472" width="38" height="13" fill="#00dfff"/><rect x="564.5" y="472" width="13" height="13" fill="#00cfff"/><rect x="577" y="472" width="13" height="13" fill="#00bfff"/><rect x="589.5" y="472" width="13" height="13" fill="#00afff"/><rect x="602" y="472" width="25.5" height="13" fill="#009fff"/><rect x="627" y="472" width="13" height="13" fill="#008fff"/><rect x="639.5" y="472" width="13" height="13" fill="#0080ff"/><rect x="652" y="472" width="13" height="13" fill="#0070ff"/><rect x="664.5" y="472" width="13" height="13" fill="#0050ff"/><rect x="677" y="472" width="13" height="13" fill="#0040ff"/><rect x="689.5" y="472" width="13" height="13" fill="#0020ff"/><rect x="702" y="472" width="13" height="13" fill="#0000ef"/><rect x="714.5" y="472" width="13" height="13" fill="#0000cf"/><rect x="727" y="472" width="13" height="13" fill="#0000bf"/><rect x="739.5" y="472" width="13" height="13" fill="#0000af"/><rect x="752" y="472" width="13" height="13" fill="#00009f"/><rect x="764.5" y="472" width="138" height="13" fill="#00008f"/><rect x="2" y="484.5" width="63" height="13" fill="#00bfff"/><rect x="64.5" y="484.5" width="50.5" height="13" fill="#00cfff"/><rect x="114.5" y="484.5" width="25.5" height="13" fill="#00bfff"/><rect x="139.5" y="484.5" width="38" height="13" fill="#00cfff"/><rect x="177" y="484.5" width="13" height="13" fill="#00efff"/><rect x="189.5" y="484.5" width="13" height="13" fill="#00ffff"/><rect x="202" y="484.5" width="13" height="13" fill="#10ffef"/><rect x="214.5" y="484.5" width="13" height="13" fill="#20ffdf"/><rect x="227" y="484.5" width="13" height="13" fill="#10ffef"/><rect x="239.5" y="484.5" width="13" height="13" fill="#00ffff"/><rect x="252" y="484.5" width="38" height="13" fill="#00efff"/><rect x="289.5" y="484.5" width="100.5" height="13" fill="#00dfff"/><rect x="389.5" y="484.5" width="13" height="13" fill="#00efff"/><rect x="402" y="484.5" width="13" height="13" fill="#10ffef"/><rect x="414.5" y="484.5" width="13" height="13" fill="#30ffcf"/><rect x="427" y="484.5" width="13" height="13" fill="#60ff9f"/><rect x="439.5" y="484.5" width="13" height="13" fill="#70ff8f"/><rect x="452" y="484.5" width="38" height="13" fill="#80ff80"/><rect x="489.5" y="484.5" width="13" height="13" fill="#60ff9f"/><rect x="502" y="484.5" width="13" height="13" fill="#40ffbf"/><rect x="514.5" y="484.5" width="13" height="13" fill="#20ffdf"/><rect x="527" y="484.5" width="13" height="13" fill="#00ffff"/><rect x="539.5" y="484.5" width="25.5" height="13" fill="#00efff"/><rect x="564.5" y="484.5" width="13" height="13" fill="#00dfff"/><rect x="577" y="484.5" width="13" height="13" fill="#00bfff"/><rect x="589.5" y="484.5" width="25.5" height="13" fill="#00afff"/><rect x="614.5" y="484.5" width="25.5" height="13" fill="#009fff"/><rect x="639.5" y="484.5" width="13" height="13" fill="#008fff"/><rect x="652" y="484.5" width="13" height="13" fill="#0070ff"/><rect x="664.5" y="484.5" width="13" height="13" fill="#0060ff"/><rect x="677" y="484.5" width="13" height="13" fill="#0040ff"/><rect x="689.5" y="484.5" width="13" height="13" fill="#0020ff"/><rect x="702" y="484.5" width="13" height="13" fill="#0000ff"/><rect x="714.5" y="484.5" width="13" height="13" fill="#0000df"/><rect x="727" y="484.5" width="13" height="13" fill="#0000cf"/><rect x="739.5" y="484.5" width="13" height="13" fill="#0000af"/><rect x="752" y="484.5" width="13" height="13" fill="#00009f"/><rect x="764.5" y="484.5" width="138" height="13" fill="#00008f"/><rect x="2" y="497" width="63" height="13" fill="#00bfff"/><rect x="64.5" y="497" width="50.5" height="13" fill="#00cfff"/><rect x="114.5" y="497" width="25.5" height="13" fill="#00bfff"/><rect x="139.5" y="497" width="25.5" height="13" fill="#00cfff"/><rect x="164.5" y="497" width="13" height="13" fill="#00efff"/><rect x="177" y="497" width="13" height="13" fill="#00ffff"/><rect x="189.5" y="497" width="13" height="13" fill="#10ffef"/><rect x="202" y="497" width="50.5" height="13" fill="#20ffdf"/><rect x="252" y="497" width="25.5" height="13" fill="#10ffef"/><rect x="277" y="497" width="13" height="13" fill="#00ffff"/><rect x="289.5" y="497" width="13" height="13" fill="#00efff"/><rect x="302" y="497" width="25.5" height="13" fill="#00dfff"/><rect x="327" y="497" width="25.5" height="13" fill="#00efff"/><rect x="352" y="497" width="25.5" height="13" fill="#00dfff"/><rect x="377" y="497" width="13" height="13" fill="#00efff"/><rect x="389.5" y="497" width="13" height="13" fill="#00ffff"/><rect x="402" y="497" width="13" height="13" fill="#20ffdf"/><rect x="414.5" y="497" width="13" height="13" fill="#30ffcf"/><rect x="427" y="497" width="13" height="13" fill="#60ff9f"/><rect x="439.5" y="497" width="13" height="13" fill="#70ff8f"/><rect x="452" y="497" width="13" height="13" fill="#80ff80"/><rect x="464.5" y="497" width="13" height="13" fill="#8fff70"/><rect x="477" y="497" width="25.5" height="13" fill="#80ff80"/><rect x="502" y="497" width="13" height="13" fill="#60ff9f"/><rect x="514.5" y="497" width="13" height="13" fill="#40ffbf"/><rect x="527" y="497" width="13" height="13" fill="#20ffdf"/><rect x="539.5" y="497" width="25.5" height="13" fill="#10ffef"/><rect x="564.5" y="497" width="13" height="13" fill="#00ffff"/><rect x="577" y="497" width="13" height="13" fill="#00cfff"/><rect x="589.5" y="497" width="13" height="13" fill="#00bfff"/><rect x="602" y="497" width="25.5" height="13" fill="#00afff"/><rect x="627" y="497" width="25.5" height="13" fill="#009fff"/><rect x="652" y="497" width="13" height="13" fill="#008fff"/><rect x="664.5" y="497" width="13" height="13" fill="#0070ff"/><rect x="677" y="497" width="13" height="13" fill="#0050ff"/><rect x="689.5" y="497" width="13" height="13" fill="#0030ff"/><rect x="702" y="497" width="13" height="13" fill="#0010ff"/><rect x="714.5" y="497" width="13" height="13" fill="#0000ef"/><rect x="727" y="497" width="13" height="13" fill="#0000cf"/><rect x="739.5" y="497" width="13" height="13" fill="#0000af"/><rect x="752" y="497" width="13" height="13" fill="#00009f"/><rect x="764.5" y="497" width="138" height="13" fill="#00008f"/><rect x="2" y="509.5" width="63" height="13" fill="#00bfff"/><rect x="64.5" y="509.5" width="25.5" height="13" fill="#00cfff"/><rect x="89.5" y="509.5" width="63" height="13" fill="#00dfff"/><rect x="152" y="509.5" width="13" height="13" fill="#00efff"/><rect x="164.5" y="509.5" width="13" height="13" fill="#00ffff"/><rect x="177" y="509.5" width="13" height="13" fill="#10ffef"/><rect x="189.5" y="509.5" width="88" height="13" fill="#20ffdf"/><rect x="277" y="509.5" width="13" height="13" fill="#10ffef"/><rect x="289.5" y="509.5" width="13" height="13" fill="#00ffff"/><rect x="302" y="509.5" width="25.5" height="13" fill="#00efff"/><rect x="327" y="509.5" width="25.5" height="13" fill="#00ffff"/><rect x="352" y="509.5" width="13" height="13" fill="#00efff"/><rect x="364.5" y="509.5" width="13" height="13" fill="#00dfff"/><rect x="377" y="509.5" width="13" height="13" fill="#00efff"/><rect x="389.5" y="509.5" width="13" height="13" fill="#00ffff"/><rect x="402" y="509.5" width="13" height="13" fill="#10ffef"/><rect x="414.5" y="509.5" width="13" height="13" fill="#30ffcf"/><rect x="427" y="509.5" width="13" height="13" fill="#50ffaf"/><rect x="439.5" y="509.5" width="13" height="13" fill="#70ff8f"/><rect x="452" y="509.5" width="25.5" height="13" fill="#80ff80"/><rect x="477" y="509.5" width="25.5" height="13" fill="#8fff70"/><rect x="502" y="509.5" width="13" height="13" fill="#80ff80"/><rect x="514.5" y="509.5" width="13" height="13" fill="#60ff9f"/><rect x="527" y="509.5" width="13" height="13" fill="#50ffaf"/><rect x="539.5" y="509.5" width="13" height="13" fill="#40ffbf"/><rect x="552" y="509.5" width="13" height="13" fill="#20ffdf"/><rect x="564.5" y="509.5" width="13" height="13" fill="#00ffff"/><rect x="577" y="509.5" width="13" height="13" fill="#00dfff"/><rect x="589.5" y="509.5" width="25.5" height="13" fill="#00bfff"/><rect x="614.5" y="509.5" width="25.5" height="13" fill="#00afff"/><rect x="639.5" y="509.5" width="13" height="13" fill="#009fff"/><rect x="652" y="509.5" width="13" height="13" fill="#008fff"/><rect x="664.5" y="509.5" width="13" height="13" fill="#0080ff"/><rect x="677" y="509.5" width="13" height="13" fill="#0050ff"/><rect x="689.5" y="509.5" width="13" height="13" fill="#0030ff"/><rect x="702" y="509.5" width="13" height="13" fill="#0020ff"/><rect x="714.5" y="509.5" width="13" height="13" fill="#0000ff"/><rect x="727" y="509.5" width="13" height="13" fill="#0000df"/><rect x="739.5" y="509.5" width="13" height="13" fill="#0000bf"/><rect x="752" y="509.5" width="13" height="13" fill="#0000af"/><rect x="764.5" y="509.5" width="13" height="13" fill="#00009f"/><rect x="777" y="509.5" width="125.5" height="13" fill="#00008f"/><rect x="2" y="522" width="63" height="13" fill="#00bfff"/><rect x="64.5" y="522" width="13" height="13" fill="#00cfff"/><rect x="77" y="522" width="13" height="13" fill="#00dfff"/><rect x="89.5" y="522" width="25.5" height="13" fill="#00ffff"/><rect x="114.5" y="522" width="63" height="13" fill="#10ffef"/><rect x="177" y="522" width="113" height="13" fill="#20ffdf"/><rect x="289.5" y="522" width="13" height="13" fill="#10ffef"/><rect x="302" y="522" width="25.5" height="13" fill="#00efff"/><rect x="327" y="522" width="25.5" height="13" fill="#00ffff"/><rect x="352" y="522" width="13" height="13" fill="#00efff"/><rect x="364.5" y="522" width="25.5" height="13" fill="#00dfff"/><rect x="389.5" y="522" width="13" height="13" fill="#00efff"/><rect x="402" y="522" width="13" height="13" fill="#00ffff"/><rect x="414.5" y="522" width="13" height="13" fill="#20ffdf"/><rect x="427" y="522" width="13" height="13" fill="#50ffaf"/><rect x="439.5" y="522" width="25.5" height="13" fill="#70ff8f"/><rect x="464.5" y="522" width="13" height="13" fill="#80ff80"/><rect x="477" y="522" width="13" height="13" fill="#8fff70"/><rect x="489.5" y="522" width="13" height="13" fill="#9fff60"/><rect x="502" y="522" width="13" height="13" fill="#8fff70"/><rect x="514.5" y="522" width="25.5" height="13" fill="#80ff80"/><rect x="539.5" y="522" width="13" height="13" fill="#60ff9f"/><rect x="552" y="522" width="13" height="13" fill="#30ffcf"/><rect x="564.5" y="522" width="13" height="13" fill="#00ffff"/><rect x="577" y="522" width="13" height="13" fill="#00dfff"/><rect x="589.5" y="522" width="13" height="13" fill="#00cfff"/><rect x="602" y="522" width="13" height="13" fill="#00bfff"/><rect x="614.5" y="522" width="13" height="13" fill="#00afff"/><rect x="627" y="522" width="13" height="13" fill="#009fff"/><rect x="639.5" y="522" width="25.5" height="13" fill="#008fff"/><rect x="664.5" y="522" width="13" height="13" fill="#0080ff"/><rect x="677" y="522" width="13" height="13" fill="#0060ff"/><rect x="689.5" y="522" width="13" height="13" fill="#0040ff"/><rect x="702" y="522" width="13" height="13" fill="#0020ff"/><rect x="714.5" y="522" width="13" height="13" fill="#0000ff"/><rect x="727" y="522" width="13" height="13" fill="#0000ef"/><rect x="739.5" y="522" width="13" height="13" fill="#0000cf"/><rect x="752" y="522" width="13" height="13" fill="#0000bf"/><rect x="764.5" y="522" width="13" height="13" fill="#0000af"/><rect x="777" y="522" width="13" height="13" fill="#00009f"/><rect x="789.5" y="522" width="113" height="13" fill="#00008f"/><rect x="2" y="534.5" width="63" height="13" fill="#00cfff"/><rect x="64.5" y="534.5" width="13" height="13" fill="#00dfff"/><rect x="77" y="534.5" width="13" height="13" fill="#00ffff"/><rect x="89.5" y="534.5" width="13" height="13" fill="#10ffef"/><rect x="102" y="534.5" width="25.5" height="13" fill="#20ffdf"/><rect x="127" y="534.5" width="75.5" height="13" fill="#30ffcf"/><rect x="202" y="534.5" width="88" height="13" fill="#20ffdf"/><rect x="289.5" y="534.5" width="13" height="13" fill="#10ffef"/><rect x="302" y="534.5" width="25.5" height="13" fill="#00efff"/><rect x="327" y="534.5" width="25.5" height="13" fill="#00ffff"/><rect x="352" y="534.5" width="13" height="13" fill="#00efff"/><rect x="364.5" y="534.5" width="25.5" height="13" fill="#00dfff"/><rect x="389.5" y="534.5" width="13" height="13" fill="#00efff"/><rect x="402" y="534.5" width="13" height="13" fill="#00ffff"/><rect x="414.5" y="534.5" width="13" height="13" fill="#20ffdf"/><rect x="427" y="534.5" width="13" height="13" fill="#50ffaf"/><rect x="439.5" y="534.5" width="25.5" height="13" fill="#60ff9f"/><rect x="464.5" y="534.5" width="13" height="13" fill="#70ff8f"/><rect x="477" y="534.5" width="13" height="13" fill="#8fff70"/><rect x="489.5" y="534.5" width="13" height="13" fill="#9fff60"/><rect x="502" y="534.5" width="13" height="13" fill="#8fff70"/><rect x="514.5" y="534.5" width="13" height="13" fill="#9fff60"/><rect x="527" y="534.5" width="13" height="13" fill="#afff50"/><rect x="539.5" y="534.5" width="13" height="13" fill="#8fff70"/><rect x="552" y="534.5" width="13" height="13" fill="#40ffbf"/><rect x="564.5" y="534.5" width="13" height="13" fill="#20ffdf"/><rect x="577" y="534.5" width="13" height="13" fill="#10ffef"/><rect x="589.5" y="534.5" width="13" height="13" fill="#00ffff"/><rect x="602" y="534.5" width="13" height="13" fill="#00dfff"/><rect x="614.5" y="534.5" width="13" height="13" fill="#00bfff"/><rect x="627" y="534.5" width="25.5" height="13" fill="#009fff"/><rect x="652" y="534.5" width="13" height="13" fill="#008fff"/><rect x="664.5" y="534.5" width="13" height="13" fill="#0080ff"/><rect x="677" y="534.5" width="13" height="13" fill="#0070ff"/><rect x="689.5" y="534.5" width="13" height="13" fill="#0050ff"/><rect x="702" y="534.5" width="13" height="13" fill="#0020ff"/><rect x="714.5" y="534.5" width="13" height="13" fill="#0000ff"/><rect x="727" y="534.5" width="13" height="13" fill="#0000ef"/><rect x="739.5" y="534.5" width="13" height="13" fill="#0000df"/><rect x="752" y="534.5" width="13" height="13" fill="#0000bf"/><rect x="764.5" y="534.5" width="13" height="13" fill="#0000af"/><rect x="777" y="534.5" width="13" height="13" fill="#00009f"/><rect x="789.5" y="534.5" width="113" height="13" fill="#00008f"/><rect x="2" y="547" width="63" height="13" fill="#00efff"/><rect x="64.5" y="547" width="13" height="13" fill="#00ffff"/><rect x="77" y="547" width="13" height="13" fill="#10ffef"/><rect x="89.5" y="547" width="25.5" height="13" fill="#20ffdf"/><rect x="114.5" y="547" width="25.5" height="13" fill="#30ffcf"/><rect x="139.5" y="547" width="13" height="13" fill="#40ffbf"/><rect x="152" y="547" width="25.5" height="13" fill="#50ffaf"/><rect x="177" y="547" width="13" height="13" fill="#40ffbf"/><rect x="189.5" y="547" width="25.5" height="13" fill="#30ffcf"/><rect x="214.5" y="547" width="88" height="13" fill="#20ffdf"/><rect x="302" y="547" width="50.5" height="13" fill="#00ffff"/><rect x="352" y="547" width="13" height="13" fill="#00efff"/><rect x="364.5" y="547" width="25.5" height="13" fill="#00dfff"/><rect x="389.5" y="547" width="13" height="13" fill="#00efff"/><rect x="402" y="547" width="13" height="13" fill="#00ffff"/><rect x="414.5" y="547" width="13" height="13" fill="#10ffef"/><rect x="427" y="547" width="13" height="13" fill="#40ffbf"/><rect x="439.5" y="547" width="25.5" height="13" fill="#50ffaf"/><rect x="464.5" y="547" width="13" height="13" fill="#60ff9f"/><rect x="477" y="547" width="13" height="13" fill="#80ff80"/><rect x="489.5" y="547" width="13" height="13" fill="#8fff70"/><rect x="502" y="547" width="13" height="13" fill="#9fff60"/><rect x="514.5" y="547" width="13" height="13" fill="#afff50"/><rect x="527" y="547" width="13" height="13" fill="#bfff40"/><rect x="539.5" y="547" width="13" height="13" fill="#afff50"/><rect x="552" y="547" width="13" height="13" fill="#80ff80"/><rect x="564.5" y="547" width="25.5" height="13" fill="#60ff9f"/><rect x="589.5" y="547" width="13" height="13" fill="#40ffbf"/><rect x="602" y="547" width="13" height="13" fill="#00ffff"/><rect x="614.5" y="547" width="13" height="13" fill="#00cfff"/><rect x="627" y="547" width="13" height="13" fill="#00bfff"/><rect x="639.5" y="547" width="25.5" height="13" fill="#00afff"/><rect x="664.5" y="547" width="13" height="13" fill="#008fff"/><rect x="677" y="547" width="13" height="13" fill="#0070ff"/><rect x="689.5" y="547" width="13" height="13" fill="#0050ff"/><rect x="702" y="547" width="13" height="13" fill="#0020ff"/><rect x="714.5" y="547" width="13" height="13" fill="#0000ff"/><rect x="727" y="547" width="13" height="13" fill="#0000ef"/><rect x="739.5" y="547" width="13" height="13" fill="#0000df"/><rect x="752" y="547" width="13" height="13" fill="#0000bf"/><rect x="764.5" y="547" width="13" height="13" fill="#0000af"/><rect x="777" y="547" width="13" height="13" fill="#00009f"/><rect x="789.5" y="547" width="113" height="13" fill="#00008f"/><rect x="2" y="559.5" width="63" height="13" fill="#00ffff"/><rect x="64.5" y="559.5" width="13" height="13" fill="#10ffef"/><rect x="77" y="559.5" width="38" height="13" fill="#20ffdf"/><rect x="114.5" y="559.5" width="13" height="13" fill="#30ffcf"/><rect x="127" y="559.5" width="13" height="13" fill="#40ffbf"/><rect x="139.5" y="559.5" width="13" height="13" fill="#50ffaf"/><rect x="152" y="559.5" width="25.5" height="13" fill="#60ff9f"/><rect x="177" y="559.5" width="13" height="13" fill="#50ffaf"/><rect x="189.5" y="559.5" width="13" height="13" fill="#40ffbf"/><rect x="202" y="559.5" width="25.5" height="13" fill="#30ffcf"/><rect x="227" y="559.5" width="75.5" height="13" fill="#20ffdf"/><rect x="302" y="559.5" width="13" height="13" fill="#10ffef"/><rect x="314.5" y="559.5" width="38" height="13" fill="#00ffff"/><rect x="352" y="559.5" width="13" height="13" fill="#00efff"/><rect x="364.5" y="559.5" width="13" height="13" fill="#00dfff"/><rect x="377" y="559.5" width="25.5" height="13" fill="#00efff"/><rect x="402" y="559.5" width="13" height="13" fill="#00ffff"/><rect x="414.5" y="559.5" width="13" height="13" fill="#10ffef"/><rect x="427" y="559.5" width="13" height="13" fill="#30ffcf"/><rect x="439.5" y="559.5" width="25.5" height="13" fill="#40ffbf"/><rect x="464.5" y="559.5" width="13" height="13" fill="#50ffaf"/><rect x="477" y="559.5" width="13" height="13" fill="#80ff80"/><rect x="489.5" y="559.5" width="13" height="13" fill="#9fff60"/><rect x="502" y="559.5" width="25.5" height="13" fill="#afff50"/><rect x="527" y="559.5" width="25.5" height="13" fill="#bfff40"/><rect x="552" y="559.5" width="13" height="13" fill="#9fff60"/><rect x="564.5" y="559.5" width="25.5" height="13" fill="#8fff70"/><rect x="589.5" y="559.5" width="13" height="13" fill="#60ff9f"/><rect x="602" y="559.5" width="13" height="13" fill="#20ffdf"/><rect x="614.5" y="559.5" width="13" height="13" fill="#00efff"/><rect x="627" y="559.5" width="13" height="13" fill="#00cfff"/><rect x="639.5" y="559.5" width="13" height="13" fill="#00bfff"/><rect x="652" y="559.5" width="13" height="13" fill="#00afff"/><rect x="664.5" y="559.5" width="13" height="13" fill="#009fff"/><rect x="677" y="559.5" width="13" height="13" fill="#0080ff"/><rect x="689.5" y="559.5" width="13" height="13" fill="#0050ff"/><rect x="702" y="559.5" width="13" height="13" fill="#0030ff"/><rect x="714.5" y="559.5" width="13" height="13" fill="#0010ff"/><rect x="727" y="559.5" width="13" height="13" fill="#0000ff"/><rect x="739.5" y="559.5" width="13" height="13" fill="#0000df"/><rect x="752" y="559.5" width="13" height="13" fill="#0000cf"/><rect x="764.5" y="559.5" width="13" height="13" fill="#0000bf"/><rect x="777" y="559.5" width="13" height="13" fill="#0000af"/><rect x="789.5" y="559.5" width="13" height="13" fill="#00009f"/><rect x="802" y="559.5" width="100.5" height="13" fill="#00008f"/><rect x="2" y="572" width="63" height="13" fill="#00ffff"/><rect x="64.5" y="572" width="13" height="13" fill="#10ffef"/><rect x="77" y="572" width="38" height="13" fill="#20ffdf"/><rect x="114.5" y="572" width="13" height="13" fill="#30ffcf"/><rect x="127" y="572" width="13" height="13" fill="#40ffbf"/><rect x="139.5" y="572" width="50.5" height="13" fill="#50ffaf"/><rect x="189.5" y="572" width="25.5" height="13" fill="#40ffbf"/><rect x="214.5" y="572" width="25.5" height="13" fill="#30ffcf"/><rect x="239.5" y="572" width="63" height="13" fill="#20ffdf"/><rect x="302" y="572" width="13" height="13" fill="#10ffef"/><rect x="314.5" y="572" width="38" height="13" fill="#00ffff"/><rect x="352" y="572" width="25.5" height="13" fill="#00efff"/><rect x="377" y="572" width="13" height="13" fill="#00ffff"/><rect x="389.5" y="572" width="13" height="13" fill="#10ffef"/><rect x="402" y="572" width="25.5" height="13" fill="#20ffdf"/><rect x="427" y="572" width="38" height="13" fill="#30ffcf"/><rect x="464.5" y="572" width="13" height="13" fill="#50ffaf"/><rect x="477" y="572" width="13" height="13" fill="#80ff80"/><rect x="489.5" y="572" width="13" height="13" fill="#afff50"/><rect x="502" y="572" width="50.5" height="13" fill="#bfff40"/><rect x="552" y="572" width="13" height="13" fill="#afff50"/><rect x="564.5" y="572" width="13" height="13" fill="#9fff60"/><rect x="577" y="572" width="13" height="13" fill="#8fff70"/><rect x="589.5" y="572" width="13" height="13" fill="#70ff8f"/><rect x="602" y="572" width="13" height="13" fill="#40ffbf"/><rect x="614.5" y="572" width="13" height="13" fill="#10ffef"/><rect x="627" y="572" width="13" height="13" fill="#00dfff"/><rect x="639.5" y="572" width="13" height="13" fill="#00bfff"/><rect x="652" y="572" width="13" height="13" fill="#00afff"/><rect x="664.5" y="572" width="13" height="13" fill="#009fff"/><rect x="677" y="572" width="13" height="13" fill="#008fff"/><rect x="689.5" y="572" width="13" height="13" fill="#0070ff"/><rect x="702" y="572" width="13" height="13" fill="#0040ff"/><rect x="714.5" y="572" width="13" height="13" fill="#0020ff"/><rect x="727" y="572" width="13" height="13" fill="#0010ff"/><rect x="739.5" y="572" width="13" height="13" fill="#0000ff"/><rect x="752" y="572" width="13" height="13" fill="#0000df"/><rect x="764.5" y="572" width="13" height="13" fill="#0000cf"/><rect x="777" y="572" width="13" height="13" fill="#0000bf"/><rect x="789.5" y="572" width="13" height="13" fill="#0000af"/><rect x="802" y="572" width="13" height="13" fill="#00009f"/><rect x="814.5" y="572" width="88" height="13" fill="#00008f"/><rect x="2" y="584.5" width="75.5" height="13" fill="#10ffef"/><rect x="77" y="584.5" width="38" height="13" fill="#20ffdf"/><rect x="114.5" y="584.5" width="13" height="13" fill="#30ffcf"/><rect x="127" y="584.5" width="100.5" height="13" fill="#40ffbf"/><rect x="227" y="584.5" width="25.5" height="13" fill="#30ffcf"/><rect x="252" y="584.5" width="50.5" height="13" fill="#20ffdf"/><rect x="302" y="584.5" width="38" height="13" fill="#10ffef"/><rect x="339.5" y="584.5" width="13" height="13" fill="#00ffff"/><rect x="352" y="584.5" width="13" height="13" fill="#00efff"/><rect x="364.5" y="584.5" width="13" height="13" fill="#00ffff"/><rect x="377" y="584.5" width="13" height="13" fill="#10ffef"/><rect x="389.5" y="584.5" width="13" height="13" fill="#20ffdf"/><rect x="402" y="584.5" width="63" height="13" fill="#30ffcf"/><rect x="464.5" y="584.5" width="13" height="13" fill="#40ffbf"/><rect x="477" y="584.5" width="13" height="13" fill="#80ff80"/><rect x="489.5" y="584.5" width="13" height="13" fill="#afff50"/><rect x="502" y="584.5" width="50.5" height="13" fill="#bfff40"/><rect x="552" y="584.5" width="25.5" height="13" fill="#afff50"/><rect x="577" y="584.5" width="13" height="13" fill="#9fff60"/><rect x="589.5" y="584.5" width="13" height="13" fill="#80ff80"/><rect x="602" y="584.5" width="13" height="13" fill="#60ff9f"/><rect x="614.5" y="584.5" width="13" height="13" fill="#20ffdf"/><rect x="627" y="584.5" width="13" height="13" fill="#00dfff"/><rect x="639.5" y="584.5" width="13" height="13" fill="#00bfff"/><rect x="652" y="584.5" width="13" height="13" fill="#00afff"/><rect x="664.5" y="584.5" width="13" height="13" fill="#009fff"/><rect x="677" y="584.5" width="13" height="13" fill="#008fff"/><rect x="689.5" y="584.5" width="13" height="13" fill="#0080ff"/><rect x="702" y="584.5" width="13" height="13" fill="#0050ff"/><rect x="714.5" y="584.5" width="13" height="13" fill="#0040ff"/><rect x="727" y="584.5" width="13" height="13" fill="#0020ff"/><rect x="739.5" y="584.5" width="13" height="13" fill="#0010ff"/><rect x="752" y="584.5" width="13" height="13" fill="#0000ff"/><rect x="764.5" y="584.5" width="13" height="13" fill="#0000df"/><rect x="777" y="584.5" width="13" height="13" fill="#0000cf"/><rect x="789.5" y="584.5" width="13" height="13" fill="#0000af"/><rect x="802" y="584.5" width="13" height="13" fill="#00009f"/><rect x="814.5" y="584.5" width="88" height="13" fill="#00008f"/><rect x="2" y="597" width="113" height="13" fill="#20ffdf"/><rect x="114.5" y="597" width="13" height="13" fill="#30ffcf"/><rect x="127" y="597" width="25.5" height="13" fill="#40ffbf"/><rect x="152" y="597" width="25.5" height="13" fill="#30ffcf"/><rect x="177" y="597" width="25.5" height="13" fill="#40ffbf"/><rect x="202" y="597" width="25.5" height="13" fill="#30ffcf"/><rect x="227" y="597" width="13" height="13" fill="#40ffbf"/><rect x="239.5" y="597" width="25.5" height="13" fill="#30ffcf"/><rect x="264.5" y="597" width="88" height="13" fill="#20ffdf"/><rect x="352" y="597" width="25.5" height="13" fill="#10ffef"/><rect x="377" y="597" width="13" height="13" fill="#20ffdf"/><rect x="389.5" y="597" width="25.5" height="13" fill="#30ffcf"/><rect x="414.5" y="597" width="13" height="13" fill="#40ffbf"/><rect x="427" y="597" width="25.5" height="13" fill="#50ffaf"/><rect x="452" y="597" width="13" height="13" fill="#30ffcf"/><rect x="464.5" y="597" width="13" height="13" fill="#40ffbf"/><rect x="477" y="597" width="13" height="13" fill="#80ff80"/><rect x="489.5" y="597" width="13" height="13" fill="#afff50"/><rect x="502" y="597" width="75.5" height="13" fill="#bfff40"/><rect x="577" y="597" width="13" height="13" fill="#afff50"/><rect x="589.5" y="597" width="13" height="13" fill="#8fff70"/><rect x="602" y="597" width="13" height="13" fill="#60ff9f"/><rect x="614.5" y="597" width="13" height="13" fill="#20ffdf"/><rect x="627" y="597" width="13" height="13" fill="#00dfff"/><rect x="639.5" y="597" width="13" height="13" fill="#00bfff"/><rect x="652" y="597" width="13" height="13" fill="#00afff"/><rect x="664.5" y="597" width="13" height="13" fill="#009fff"/><rect x="677" y="597" width="13" height="13" fill="#008fff"/><rect x="689.5" y="597" width="13" height="13" fill="#0080ff"/><rect x="702" y="597" width="13" height="13" fill="#0060ff"/><rect x="714.5" y="597" width="13" height="13" fill="#0050ff"/><rect x="727" y="597" width="13" height="13" fill="#0040ff"/><rect x="739.5" y="597" width="13" height="13" fill="#0020ff"/><rect x="752" y="597" width="13" height="13" fill="#0010ff"/><rect x="764.5" y="597" width="13" height="13" fill="#0000ef"/><rect x="777" y="597" width="13" height="13" fill="#0000cf"/><rect x="789.5" y="597" width="13" height="13" fill="#0000af"/><rect x="802" y="597" width="13" height="13" fill="#00009f"/><rect x="814.5" y="597" width="88" height="13" fill="#00008f"/><rect x="2" y="609.5" width="100.5" height="13" fill="#20ffdf"/><rect x="102" y="609.5" width="25.5" height="13" fill="#30ffcf"/><rect x="127" y="609.5" width="25.5" height="13" fill="#40ffbf"/><rect x="152" y="609.5" width="25.5" height="13" fill="#30ffcf"/><rect x="177" y="609.5" width="25.5" height="13" fill="#40ffbf"/><rect x="202" y="609.5" width="25.5" height="13" fill="#30ffcf"/><rect x="227" y="609.5" width="25.5" height="13" fill="#40ffbf"/><rect x="252" y="609.5" width="13" height="13" fill="#30ffcf"/><rect x="264.5" y="609.5" width="63" height="13" fill="#20ffdf"/><rect x="327" y="609.5" width="50.5" height="13" fill="#30ffcf"/><rect x="377" y="609.5" width="13" height="13" fill="#20ffdf"/><rect x="389.5" y="609.5" width="13" height="13" fill="#30ffcf"/><rect x="402" y="609.5" width="13" height="13" fill="#40ffbf"/><rect x="414.5" y="609.5" width="13" height="13" fill="#50ffaf"/><rect x="427" y="609.5" width="13" height="13" fill="#60ff9f"/><rect x="439.5" y="609.5" width="13" height="13" fill="#50ffaf"/><rect x="452" y="609.5" width="13" height="13" fill="#20ffdf"/><rect x="464.5" y="609.5" width="13" height="13" fill="#30ffcf"/><rect x="477" y="609.5" width="13" height="13" fill="#70ff8f"/><rect x="489.5" y="609.5" width="13" height="13" fill="#9fff60"/><rect x="502" y="609.5" width="13" height="13" fill="#afff50"/><rect x="514.5" y="609.5" width="38" height="13" fill="#bfff40"/><rect x="552" y="609.5" width="13" height="13" fill="#cfff30"/><rect x="564.5" y="609.5" width="25.5" height="13" fill="#bfff40"/><rect x="589.5" y="609.5" width="13" height="13" fill="#8fff70"/><rect x="602" y="609.5" width="13" height="13" fill="#60ff9f"/><rect x="614.5" y="609.5" width="13" height="13" fill="#20ffdf"/><rect x="627" y="609.5" width="13" height="13" fill="#00dfff"/><rect x="639.5" y="609.5" width="13" height="13" fill="#00bfff"/><rect x="652" y="609.5" width="13" height="13" fill="#00afff"/><rect x="664.5" y="609.5" width="13" height="13" fill="#009fff"/><rect x="677" y="609.5" width="13" height="13" fill="#008fff"/><rect x="689.5" y="609.5" width="13" height="13" fill="#0080ff"/><rect x="702" y="609.5" width="13" height="13" fill="#0070ff"/><rect x="714.5" y="609.5" width="13" height="13" fill="#0060ff"/><rect x="727" y="609.5" width="13" height="13" fill="#0050ff"/><rect x="739.5" y="609.5" width="13" height="13" fill="#0030ff"/><rect x="752" y="609.5" width="13" height="13" fill="#0020ff"/><rect x="764.5" y="609.5" width="13" height="13" fill="#0000ff"/><rect x="777" y="609.5" width="13" height="13" fill="#0000df"/><rect x="789.5" y="609.5" width="13" height="13" fill="#0000bf"/><rect x="802" y="609.5" width="13" height="13" fill="#00009f"/><rect x="814.5" y="609.5" width="88" height="13" fill="#00008f"/><rect x="2" y="622" width="88" height="13" fill="#20ffdf"/><rect x="89.5" y="622" width="25.5" height="13" fill="#30ffcf"/><rect x="114.5" y="622" width="38" height="13" fill="#40ffbf"/><rect x="152" y="622" width="25.5" height="13" fill="#30ffcf"/><rect x="177" y="622" width="25.5" height="13" fill="#40ffbf"/><rect x="202" y="622" width="25.5" height="13" fill="#30ffcf"/><rect x="227" y="622" width="25.5" height="13" fill="#40ffbf"/><rect x="252" y="622" width="13" height="13" fill="#30ffcf"/><rect x="264.5" y="622" width="50.5" height="13" fill="#20ffdf"/><rect x="314.5" y="622" width="25.5" height="13" fill="#30ffcf"/><rect x="339.5" y="622" width="25.5" height="13" fill="#40ffbf"/><rect x="364.5" y="622" width="38" height="13" fill="#30ffcf"/><rect x="402" y="622" width="13" height="13" fill="#40ffbf"/><rect x="414.5" y="622" width="25.5" height="13" fill="#50ffaf"/><rect x="439.5" y="622" width="13" height="13" fill="#40ffbf"/><rect x="452" y="622" width="25.5" height="13" fill="#10ffef"/><rect x="477" y="622" width="13" height="13" fill="#40ffbf"/><rect x="489.5" y="622" width="13" height="13" fill="#70ff8f"/><rect x="502" y="622" width="13" height="13" fill="#8fff70"/><rect x="514.5" y="622" width="25.5" height="13" fill="#9fff60"/><rect x="539.5" y="622" width="13" height="13" fill="#afff50"/><rect x="552" y="622" width="25.5" height="13" fill="#cfff30"/><rect x="577" y="622" width="13" height="13" fill="#bfff40"/><rect x="589.5" y="622" width="13" height="13" fill="#9fff60"/><rect x="602" y="622" width="13" height="13" fill="#60ff9f"/><rect x="614.5" y="622" width="13" height="13" fill="#20ffdf"/><rect x="627" y="622" width="13" height="13" fill="#00dfff"/><rect x="639.5" y="622" width="13" height="13" fill="#00bfff"/><rect x="652" y="622" width="13" height="13" fill="#00afff"/><rect x="664.5" y="622" width="13" height="13" fill="#009fff"/><rect x="677" y="622" width="13" height="13" fill="#008fff"/><rect x="689.5" y="622" width="13" height="13" fill="#0080ff"/><rect x="702" y="622" width="13" height="13" fill="#0070ff"/><rect x="714.5" y="622" width="25.5" height="13" fill="#0060ff"/><rect x="739.5" y="622" width="13" height="13" fill="#0040ff"/><rect x="752" y="622" width="13" height="13" fill="#0020ff"/><rect x="764.5" y="622" width="13" height="13" fill="#0000ff"/><rect x="777" y="622" width="13" height="13" fill="#0000ef"/><rect x="789.5" y="622" width="13" height="13" fill="#0000cf"/><rect x="802" y="622" width="13" height="13" fill="#00009f"/><rect x="814.5" y="622" width="88" height="13" fill="#00008f"/><rect x="2" y="634.5" width="88" height="13" fill="#20ffdf"/><rect x="89.5" y="634.5" width="25.5" height="13" fill="#30ffcf"/><rect x="114.5" y="634.5" width="38" height="13" fill="#40ffbf"/><rect x="152" y="634.5" width="75.5" height="13" fill="#30ffcf"/><rect x="227" y="634.5" width="25.5" height="13" fill="#40ffbf"/><rect x="252" y="634.5" width="13" height="13" fill="#30ffcf"/><rect x="264.5" y="634.5" width="50.5" height="13" fill="#20ffdf"/><rect x="314.5" y="634.5" width="13" height="13" fill="#30ffcf"/><rect x="327" y="634.5" width="38" height="13" fill="#40ffbf"/><rect x="364.5" y="634.5" width="38" height="13" fill="#30ffcf"/><rect x="402" y="634.5" width="38" height="13" fill="#40ffbf"/><rect x="439.5" y="634.5" width="13" height="13" fill="#30ffcf"/><rect x="452" y="634.5" width="25.5" height="13" fill="#00efff"/><rect x="477" y="634.5" width="13" height="13" fill="#20ffdf"/><rect x="489.5" y="634.5" width="13" height="13" fill="#40ffbf"/><rect x="502" y="634.5" width="13" height="13" fill="#50ffaf"/><rect x="514.5" y="634.5" width="13" height="13" fill="#70ff8f"/><rect x="527" y="634.5" width="13" height="13" fill="#80ff80"/><rect x="539.5" y="634.5" width="13" height="13" fill="#9fff60"/><rect x="552" y="634.5" width="13" height="13" fill="#cfff30"/><rect x="564.5" y="634.5" width="13" height="13" fill="#dfff20"/><rect x="577" y="634.5" width="13" height="13" fill="#cfff30"/><rect x="589.5" y="634.5" width="13" height="13" fill="#9fff60"/><rect x="602" y="634.5" width="13" height="13" fill="#60ff9f"/><rect x="614.5" y="634.5" width="13" height="13" fill="#20ffdf"/><rect x="627" y="634.5" width="13" height="13" fill="#00dfff"/><rect x="639.5" y="634.5" width="13" height="13" fill="#00bfff"/><rect x="652" y="634.5" width="13" height="13" fill="#00afff"/><rect x="664.5" y="634.5" width="25.5" height="13" fill="#009fff"/><rect x="689.5" y="634.5" width="13" height="13" fill="#008fff"/><rect x="702" y="634.5" width="25.5" height="13" fill="#0070ff"/><rect x="727" y="634.5" width="13" height="13" fill="#0060ff"/><rect x="739.5" y="634.5" width="13" height="13" fill="#0050ff"/><rect x="752" y="634.5" width="13" height="13" fill="#0020ff"/><rect x="764.5" y="634.5" width="13" height="13" fill="#0000ff"/><rect x="777" y="634.5" width="13" height="13" fill="#0000ef"/><rect x="789.5" y="634.5" width="13" height="13" fill="#0000cf"/><rect x="802" y="634.5" width="13" height="13" fill="#0000af"/><rect x="814.5" y="634.5" width="13" height="13" fill="#00009f"/><rect x="827" y="634.5" width="75.5" height="13" fill="#00008f"/><rect x="2" y="647" width="75.5" height="13" fill="#10ffef"/><rect x="77" y="647" width="25.5" height="13" fill="#20ffdf"/><rect x="102" y="647" width="25.5" height="13" fill="#30ffcf"/><rect x="127" y="647" width="25.5" height="13" fill="#40ffbf"/><rect x="152" y="647" width="13" height="13" fill="#30ffcf"/><rect x="164.5" y="647" width="13" height="13" fill="#20ffdf"/><rect x="177" y="647" width="25.5" height="13" fill="#10ffef"/><rect x="202" y="647" width="13" height="13" fill="#20ffdf"/><rect x="214.5" y="647" width="13" height="13" fill="#30ffcf"/><rect x="227" y="647" width="25.5" height="13" fill="#40ffbf"/><rect x="252" y="647" width="13" height="13" fill="#30ffcf"/><rect x="264.5" y="647" width="50.5" height="13" fill="#20ffdf"/><rect x="314.5" y="647" width="13" height="13" fill="#30ffcf"/><rect x="327" y="647" width="25.5" height="13" fill="#40ffbf"/><rect x="352" y="647" width="25.5" height="13" fill="#30ffcf"/><rect x="377" y="647" width="13" height="13" fill="#20ffdf"/><rect x="389.5" y="647" width="13" height="13" fill="#30ffcf"/><rect x="402" y="647" width="38" height="13" fill="#40ffbf"/><rect x="439.5" y="647" width="13" height="13" fill="#30ffcf"/><rect x="452" y="647" width="13" height="13" fill="#00efff"/><rect x="464.5" y="647" width="13" height="13" fill="#00dfff"/><rect x="477" y="647" width="13" height="13" fill="#00efff"/><rect x="489.5" y="647" width="25.5" height="13" fill="#00ffff"/><rect x="514.5" y="647" width="13" height="13" fill="#30ffcf"/><rect x="527" y="647" width="13" height="13" fill="#70ff8f"/><rect x="539.5" y="647" width="13" height="13" fill="#9fff60"/><rect x="552" y="647" width="13" height="13" fill="#cfff30"/><rect x="564.5" y="647" width="13" height="13" fill="#dfff20"/><rect x="577" y="647" width="13" height="13" fill="#cfff30"/><rect x="589.5" y="647" width="13" height="13" fill="#9fff60"/><rect x="602" y="647" width="13" height="13" fill="#50ffaf"/><rect x="614.5" y="647" width="13" height="13" fill="#10ffef"/><rect x="627" y="647" width="13" height="13" fill="#00cfff"/><rect x="639.5" y="647" width="38" height="13" fill="#00afff"/><rect x="677" y="647" width="25.5" height="13" fill="#009fff"/><rect x="702" y="647" width="13" height="13" fill="#008fff"/><rect x="714.5" y="647" width="13" height="13" fill="#0080ff"/><rect x="727" y="647" width="13" height="13" fill="#0070ff"/><rect x="739.5" y="647" width="13" height="13" fill="#0050ff"/><rect x="752" y="647" width="13" height="13" fill="#0020ff"/><rect x="764.5" y="647" width="13" height="13" fill="#0000ff"/><rect x="777" y="647" width="13" height="13" fill="#0000ef"/><rect x="789.5" y="647" width="13" height="13" fill="#0000df"/><rect x="802" y="647" width="13" height="13" fill="#0000bf"/><rect x="814.5" y="647" width="13" height="13" fill="#0000af"/><rect x="827" y="647" width="13" height="13" fill="#00009f"/><rect x="839.5" y="647" width="63" height="13" fill="#00008f"/><rect x="2" y="659.5" width="63" height="13" fill="#00ffff"/><rect x="64.5" y="659.5" width="13" height="13" fill="#10ffef"/><rect x="77" y="659.5" width="38" height="13" fill="#20ffdf"/><rect x="114.5" y="659.5" width="13" height="13" fill="#30ffcf"/><rect x="127" y="659.5" width="25.5" height="13" fill="#40ffbf"/><rect x="152" y="659.5" width="13" height="13" fill="#30ffcf"/><rect x="164.5" y="659.5" width="13" height="13" fill="#20ffdf"/><rect x="177" y="659.5" width="25.5" height="13" fill="#10ffef"/><rect x="202" y="659.5" width="13" height="13" fill="#20ffdf"/><rect x="214.5" y="659.5" width="13" height="13" fill="#30ffcf"/><rect x="227" y="659.5" width="25.5" height="13" fill="#40ffbf"/><rect x="252" y="659.5" width="13" height="13" fill="#30ffcf"/><rect x="264.5" y="659.5" width="50.5" height="13" fill="#20ffdf"/><rect x="314.5" y="659.5" width="13" height="13" fill="#30ffcf"/><rect x="327" y="659.5" width="25.5" height="13" fill="#40ffbf"/><rect x="352" y="659.5" width="13" height="13" fill="#30ffcf"/><rect x="364.5" y="659.5" width="25.5" height="13" fill="#20ffdf"/><rect x="389.5" y="659.5" width="13" height="13" fill="#30ffcf"/><rect x="402" y="659.5" width="38" height="13" fill="#40ffbf"/><rect x="439.5" y="659.5" width="13" height="13" fill="#20ffdf"/><rect x="452" y="659.5" width="13" height="13" fill="#00dfff"/><rect x="464.5" y="659.5" width="13" height="13" fill="#00cfff"/><rect x="477" y="659.5" width="38" height="13" fill="#00dfff"/><rect x="514.5" y="659.5" width="13" height="13" fill="#10ffef"/><rect x="527" y="659.5" width="13" height="13" fill="#60ff9f"/><rect x="539.5" y="659.5" width="13" height="13" fill="#9fff60"/><rect x="552" y="659.5" width="13" height="13" fill="#cfff30"/><rect x="564.5" y="659.5" width="13" height="13" fill="#dfff20"/><rect x="577" y="659.5" width="13" height="13" fill="#cfff30"/><rect x="589.5" y="659.5" width="13" height="13" fill="#9fff60"/><rect x="602" y="659.5" width="13" height="13" fill="#50ffaf"/><rect x="614.5" y="659.5" width="13" height="13" fill="#00ffff"/><rect x="627" y="659.5" width="13" height="13" fill="#00cfff"/><rect x="639.5" y="659.5" width="50.5" height="13" fill="#00afff"/><rect x="689.5" y="659.5" width="13" height="13" fill="#009fff"/><rect x="702" y="659.5" width="13" height="13" fill="#008fff"/><rect x="714.5" y="659.5" width="13" height="13" fill="#0080ff"/><rect x="727" y="659.5" width="13" height="13" fill="#0070ff"/><rect x="739.5" y="659.5" width="13" height="13" fill="#0050ff"/><rect x="752" y="659.5" width="13" height="13" fill="#0020ff"/><rect x="764.5" y="659.5" width="13" height="13" fill="#0000ff"/><rect x="777" y="659.5" width="13" height="13" fill="#0000ef"/><rect x="789.5" y="659.5" width="13" height="13" fill="#0000df"/><rect x="802" y="659.5" width="13" height="13" fill="#0000bf"/><rect x="814.5" y="659.5" width="13" height="13" fill="#0000af"/><rect x="827" y="659.5" width="13" height="13" fill="#00009f"/><rect x="839.5" y="659.5" width="63" height="13" fill="#00008f"/><rect x="2" y="672" width="63" height="13" fill="#00ffff"/><rect x="64.5" y="672" width="13" height="13" fill="#10ffef"/><rect x="77" y="672" width="38" height="13" fill="#20ffdf"/><rect x="114.5" y="672" width="13" height="13" fill="#30ffcf"/><rect x="127" y="672" width="25.5" height="13" fill="#40ffbf"/><rect x="152" y="672" width="13" height="13" fill="#30ffcf"/><rect x="164.5" y="672" width="13" height="13" fill="#20ffdf"/><rect x="177" y="672" width="25.5" height="13" fill="#10ffef"/><rect x="202" y="672" width="13" height="13" fill="#20ffdf"/><rect x="214.5" y="672" width="13" height="13" fill="#30ffcf"/><rect x="227" y="672" width="25.5" height="13" fill="#40ffbf"/><rect x="252" y="672" width="13" height="13" fill="#30ffcf"/><rect x="264.5" y="672" width="50.5" height="13" fill="#20ffdf"/><rect x="314.5" y="672" width="13" height="13" fill="#30ffcf"/><rect x="327" y="672" width="25.5" height="13" fill="#40ffbf"/><rect x="352" y="672" width="13" height="13" fill="#30ffcf"/><rect x="364.5" y="672" width="25.5" height="13" fill="#20ffdf"/><rect x="389.5" y="672" width="13" height="13" fill="#30ffcf"/><rect x="402" y="672" width="38" height="13" fill="#40ffbf"/><rect x="439.5" y="672" width="13" height="13" fill="#20ffdf"/><rect x="452" y="672" width="13" height="13" fill="#00dfff"/><rect x="464.5" y="672" width="13" height="13" fill="#00cfff"/><rect x="477" y="672" width="38" height="13" fill="#00dfff"/><rect x="514.5" y="672" width="13" height="13" fill="#10ffef"/><rect x="527" y="672" width="13" height="13" fill="#60ff9f"/><rect x="539.5" y="672" width="13" height="13" fill="#9fff60"/><rect x="552" y="672" width="13" height="13" fill="#cfff30"/><rect x="564.5" y="672" width="13" height="13" fill="#dfff20"/><rect x="577" y="672" width="13" height="13" fill="#cfff30"/><rect x="589.5" y="672" width="13" height="13" fill="#9fff60"/><rect x="602" y="672" width="13" height="13" fill="#50ffaf"/><rect x="614.5" y="672" width="13" height="13" fill="#00ffff"/><rect x="627" y="672" width="13" height="13" fill="#00cfff"/><rect x="639.5" y="672" width="50.5" height="13" fill="#00afff"/><rect x="689.5" y="672" width="13" height="13" fill="#009fff"/><rect x="702" y="672" width="13" height="13" fill="#008fff"/><rect x="714.5" y="672" width="13" height="13" fill="#0080ff"/><rect x="727" y="672" width="13" height="13" fill="#0070ff"/><rect x="739.5" y="672" width="13" height="13" fill="#0050ff"/><rect x="752" y="672" width="13" height="13" fill="#0020ff"/><rect x="764.5" y="672" width="13" height="13" fill="#0000ff"/><rect x="777" y="672" width="13" height="13" fill="#0000ef"/><rect x="789.5" y="672" width="13" height="13" fill="#0000df"/><rect x="802" y="672" width="13" height="13" fill="#0000bf"/><rect x="814.5" y="672" width="13" height="13" fill="#0000af"/><rect x="827" y="672" width="13" height="13" fill="#00009f"/><rect x="839.5" y="672" width="63" height="13" fill="#00008f"/><rect x="2" y="684.5" width="63" height="13" fill="#00ffff"/><rect x="64.5" y="684.5" width="13" height="13" fill="#10ffef"/><rect x="77" y="684.5" width="38" height="13" fill="#20ffdf"/><rect x="114.5" y="684.5" width="13" height="13" fill="#30ffcf"/><rect x="127" y="684.5" width="25.5" height="13" fill="#40ffbf"/><rect x="152" y="684.5" width="13" height="13" fill="#30ffcf"/><rect x="164.5" y="684.5" width="13" height="13" fill="#20ffdf"/><rect x="177" y="684.5" width="25.5" height="13" fill="#10ffef"/><rect x="202" y="684.5" width="13" height="13" fill="#20ffdf"/><rect x="214.5" y="684.5" width="13" height="13" fill="#30ffcf"/><rect x="227" y="684.5" width="25.5" height="13" fill="#40ffbf"/><rect x="252" y="684.5" width="13" height="13" fill="#30ffcf"/><rect x="264.5" y="684.5" width="50.5" height="13" fill="#20ffdf"/><rect x="314.5" y="684.5" width="13" height="13" fill="#30ffcf"/><rect x="327" y="684.5" width="25.5" height="13" fill="#40ffbf"/><rect x="352" y="684.5" width="13" height="13" fill="#30ffcf"/><rect x="364.5" y="684.5" width="25.5" height="13" fill="#20ffdf"/><rect x="389.5" y="684.5" width="13" height="13" fill="#30ffcf"/><rect x="402" y="684.5" width="38" height="13" fill="#40ffbf"/><rect x="439.5" y="684.5" width="13" height="13" fill="#20ffdf"/><rect x="452" y="684.5" width="13" height="13" fill="#00dfff"/><rect x="464.5" y="684.5" width="13" height="13" fill="#00cfff"/><rect x="477" y="684.5" width="38" height="13" fill="#00dfff"/><rect x="514.5" y="684.5" width="13" height="13" fill="#10ffef"/><rect x="527" y="684.5" width="13" height="13" fill="#60ff9f"/><rect x="539.5" y="684.5" width="13" height="13" fill="#9fff60"/><rect x="552" y="684.5" width="13" height="13" fill="#cfff30"/><rect x="564.5" y="684.5" width="13" height="13" fill="#dfff20"/><rect x="577" y="684.5" width="13" height="13" fill="#cfff30"/><rect x="589.5" y="684.5" width="13" height="13" fill="#9fff60"/><rect x="602" y="684.5" width="13" height="13" fill="#50ffaf"/><rect x="614.5" y="684.5" width="13" height="13" fill="#00ffff"/><rect x="627" y="684.5" width="13" height="13" fill="#00cfff"/><rect x="639.5" y="684.5" width="50.5" height="13" fill="#00afff"/><rect x="689.5" y="684.5" width="13" height="13" fill="#009fff"/><rect x="702" y="684.5" width="13" height="13" fill="#008fff"/><rect x="714.5" y="684.5" width="13" height="13" fill="#0080ff"/><rect x="727" y="684.5" width="13" height="13" fill="#0070ff"/><rect x="739.5" y="684.5" width="13" height="13" fill="#0050ff"/><rect x="752" y="684.5" width="13" height="13" fill="#0020ff"/><rect x="764.5" y="684.5" width="13" height="13" fill="#0000ff"/><rect x="777" y="684.5" width="13" height="13" fill="#0000ef"/><rect x="789.5" y="684.5" width="13" height="13" fill="#0000df"/><rect x="802" y="684.5" width="13" height="13" fill="#0000bf"/><rect x="814.5" y="684.5" width="13" height="13" fill="#0000af"/><rect x="827" y="684.5" width="13" height="13" fill="#00009f"/><rect x="839.5" y="684.5" width="63" height="13" fill="#00008f"/><rect x="2" y="697" width="63" height="13" fill="#00ffff"/><rect x="64.5" y="697" width="13" height="13" fill="#10ffef"/><rect x="77" y="697" width="38" height="13" fill="#20ffdf"/><rect x="114.5" y="697" width="13" height="13" fill="#30ffcf"/><rect x="127" y="697" width="25.5" height="13" fill="#40ffbf"/><rect x="152" y="697" width="13" height="13" fill="#30ffcf"/><rect x="164.5" y="697" width="13" height="13" fill="#20ffdf"/><rect x="177" y="697" width="25.5" height="13" fill="#10ffef"/><rect x="202" y="697" width="13" height="13" fill="#20ffdf"/><rect x="214.5" y="697" width="13" height="13" fill="#30ffcf"/><rect x="227" y="697" width="25.5" height="13" fill="#40ffbf"/><rect x="252" y="697" width="13" height="13" fill="#30ffcf"/><rect x="264.5" y="697" width="50.5" height="13" fill="#20ffdf"/><rect x="314.5" y="697" width="13" height="13" fill="#30ffcf"/><rect x="327" y="697" width="25.5" height="13" fill="#40ffbf"/><rect x="352" y="697" width="13" height="13" fill="#30ffcf"/><rect x="364.5" y="697" width="25.5" height="13" fill="#20ffdf"/><rect x="389.5" y="697" width="13" height="13" fill="#30ffcf"/><rect x="402" y="697" width="38" height="13" fill="#40ffbf"/><rect x="439.5" y="697" width="13" height="13" fill="#20ffdf"/><rect x="452" y="697" width="13" height="13" fill="#00dfff"/><rect x="464.5" y="697" width="13" height="13" fill="#00cfff"/><rect x="477" y="697" width="38" height="13" fill="#00dfff"/><rect x="514.5" y="697" width="13" height="13" fill="#10ffef"/><rect x="527" y="697" width="13" height="13" fill="#60ff9f"/><rect x="539.5" y="697" width="13" height="13" fill="#9fff60"/><rect x="552" y="697" width="13" height="13" fill="#cfff30"/><rect x="564.5" y="697" width="13" height="13" fill="#dfff20"/><rect x="577" y="697" width="13" height="13" fill="#cfff30"/><rect x="589.5" y="697" width="13" height="13" fill="#9fff60"/><rect x="602" y="697" width="13" height="13" fill="#50ffaf"/><rect x="614.5" y="697" width="13" height="13" fill="#00ffff"/><rect x="627" y="697" width="13" height="13" fill="#00cfff"/><rect x="639.5" y="697" width="50.5" height="13" fill="#00afff"/><rect x="689.5" y="697" width="13" height="13" fill="#009fff"/><rect x="702" y="697" width="13" height="13" fill="#008fff"/><rect x="714.5" y="697" width="13" height="13" fill="#0080ff"/><rect x="727" y="697" width="13" height="13" fill="#0070ff"/><rect x="739.5" y="697" width="13" height="13" fill="#0050ff"/><rect x="752" y="697" width="13" height="13" fill="#0020ff"/><rect x="764.5" y="697" width="13" height="13" fill="#0000ff"/><rect x="777" y="697" width="13" height="13" fill="#0000ef"/><rect x="789.5" y="697" width="13" height="13" fill="#0000df"/><rect x="802" y="697" width="13" height="13" fill="#0000bf"/><rect x="814.5" y="697" width="13" height="13" fill="#0000af"/><rect x="827" y="697" width="13" height="13" fill="#00009f"/><rect x="839.5" y="697" width="63" height="13" fill="#00008f"/><rect x="2" y="709.5" width="63" height="13" fill="#00ffff"/><rect x="64.5" y="709.5" width="13" height="13" fill="#10ffef"/><rect x="77" y="709.5" width="38" height="13" fill="#20ffdf"/><rect x="114.5" y="709.5" width="13" height="13" fill="#30ffcf"/><rect x="127" y="709.5" width="25.5" height="13" fill="#40ffbf"/><rect x="152" y="709.5" width="13" height="13" fill="#30ffcf"/><rect x="164.5" y="709.5" width="13" height="13" fill="#20ffdf"/><rect x="177" y="709.5" width="25.5" height="13" fill="#10ffef"/><rect x="202" y="709.5" width="13" height="13" fill="#20ffdf"/><rect x="214.5" y="709.5" width="13" height="13" fill="#30ffcf"/><rect x="227" y="709.5" width="25.5" height="13" fill="#40ffbf"/><rect x="252" y="709.5" width="13" height="13" fill="#30ffcf"/><rect x="264.5" y="709.5" width="50.5" height="13" fill="#20ffdf"/><rect x="314.5" y="709.5" width="13" height="13" fill="#30ffcf"/><rect x="327" y="709.5" width="25.5" height="13" fill="#40ffbf"/><rect x="352" y="709.5" width="13" height="13" fill="#30ffcf"/><rect x="364.5" y="709.5" width="25.5" height="13" fill="#20ffdf"/><rect x="389.5" y="709.5" width="13" height="13" fill="#30ffcf"/><rect x="402" y="709.5" width="38" height="13" fill="#40ffbf"/><rect x="439.5" y="709.5" width="13" height="13" fill="#20ffdf"/><rect x="452" y="709.5" width="13" height="13" fill="#00dfff"/><rect x="464.5" y="709.5" width="13" height="13" fill="#00cfff"/><rect x="477" y="709.5" width="38" height="13" fill="#00dfff"/><rect x="514.5" y="709.5" width="13" height="13" fill="#10ffef"/><rect x="527" y="709.5" width="13" height="13" fill="#60ff9f"/><rect x="539.5" y="709.5" width="13" height="13" fill="#9fff60"/><rect x="552" y="709.5" width="13" height="13" fill="#cfff30"/><rect x="564.5" y="709.5" width="13" height="13" fill="#dfff20"/><rect x="577" y="709.5" width="13" height="13" fill="#cfff30"/><rect x="589.5" y="709.5" width="13" height="13" fill="#9fff60"/><rect x="602" y="709.5" width="13" height="13" fill="#50ffaf"/><rect x="614.5" y="709.5" width="13" height="13" fill="#00ffff"/><rect x="627" y="709.5" width="13" height="13" fill="#00cfff"/><rect x="639.5" y="709.5" width="50.5" height="13" fill="#00afff"/><rect x="689.5" y="709.5" width="13" height="13" fill="#009fff"/><rect x="702" y="709.5" width="13" height="13" fill="#008fff"/><rect x="714.5" y="709.5" width="13" height="13" fill="#0080ff"/><rect x="727" y="709.5" width="13" height="13" fill="#0070ff"/><rect x="739.5" y="709.5" width="13" height="13" fill="#0050ff"/><rect x="752" y="709.5" width="13" height="13" fill="#0020ff"/><rect x="764.5" y="709.5" width="13" height="13" fill="#0000ff"/><rect x="777" y="709.5" width="13" height="13" fill="#0000ef"/><rect x="789.5" y="709.5" width="13" height="13" fill="#0000df"/><rect x="802" y="709.5" width="13" height="13" fill="#0000bf"/><rect x="814.5" y="709.5" width="13" height="13" fill="#0000af"/><rect x="827" y="709.5" width="13" height="13" fill="#00009f"/><rect x="839.5" y="709.5" width="63" height="13" fill="#00008f"/></g><g stroke="#101030" stroke-width="1" stroke-dasharray="1 4"><line x1="96.5" y1="71" x2="96.5" y2="671.5"/><line x1="230.5" y1="71" x2="230.5" y2="671.5"/><line x1="364.5" y1="71" x2="364.5" y2="671.5"/><line x1="498.5" y1="71" x2="498.5" y2="671.5"/><line x1="632.5" y1="71" x2="632.5" y2="671.5"/><line x1="766.5" y1="71" x2="766.5" y2="671.5"/><line x1="52" y1="203.5" x2="847.5" y2="203.5"/><line x1="52" y1="357.5" x2="847.5" y2="357.5"/><line x1="52" y1="509.5" x2="847.5" y2="509.5"/><line x1="52" y1="660.5" x2="847.5" y2="660.5"/></g><g filter="url(#bl2)"><polygon points="40,50 870,50 870,690 792,690 788,672 772,620 755,580 735,540 715,500 700,460 688,427 675,385 660,340 640,300 600,290 580,292 560,296 548,305 540,318 525,328 505,333 488,328 478,316 472,305 460,305 441,309 413,305 395,298 408,283 413,264 410,236 395,209 376,192 365,190 350,193 334,183 318,172 302,167 278,167 254,164 230,162 214,172 190,186 175,192 150,195 100,198 52,199 40,199" fill="#000094"/><polygon points="301.7,285 309.5,282.5 322.5,285 336.8,281 344.6,276 355,276 362.8,281 370,287 380,292 395,296 420,298 420,306 395,306 378,302 368,296 360,291 357.6,293 351,300.7 342,306 329,307 316,304.6 305.6,299.4 301.7,291.6" fill="#004dff"/></g><g stroke="#000010" stroke-width="1" fill="none" opacity="0.85"><polyline points="40,330 52,326 92,314 124,311 152,298 176,280 189,267 191,253 197,247 220,226 228,226 258,247 292,271 312,283 352,313 372,322 396,352 405,372 412,384 420,396 430,408 440,420 452,432 456,446 468,458 482,472 496,486 512,500 532,522 540,540 544,580 548,612 556,644 560,680" fill="none" /><polyline points="40,230 52,230 64,232 76,229 84,236 92,239 104,236 112,232 128,231 136,236 144,232 152,236 160,229 166,226 180,224 202,208 222,194 244,179 276,180 316,184 340,204 364,224 380,236 388,256 396,284 412,292 432,302 455,313 470,328 485,340 506,343 518,337 536,346 554,358 566,376 570.3,380 578.3,390.6 591.5,393.3 600.8,400 608.8,406.5 615.4,409.2 615.4,426.4 622,430.4 627.3,437 634,443.7 639.3,450.3 645,457 657,474 667,492 673,508 681,522 692,542 704,568 722,596 736,622 752,652 762,680" fill="none" /><polyline points="430,230 434,250 431,274 455,280 485,289 515,271 545,256 584,244 620,256 650,274 668,300 681,328 696,349 711,370 724,378 730,395 734,417 743,438 747,460 752,522 764,572 776,602 792,622 812,646 826,680" fill="none" /><polyline points="40,178 52,178 80,184 108,188 132,184 152,178 172,172 192,166 212,162 250,166 300,160 332,168 372,190 404,214 424,240 432,262" fill="none" /><polyline points="78,236 76,254 80,240" fill="none" /><polyline points="154,246 140,254 150,240" fill="none" /><polyline points="160,228 172,212 166,224" fill="none" /><polyline points="198,193 206,196 204,199 198,197 198,193" fill="none" /><polyline points="578.3,403.9 581,414.5 584.9,419.8 584.9,430.4 582.2,435.7 588.9,438.4 591.5,443.7 598.2,441 604.8,446.3 608.8,454.3 615.4,459.6 620.7,464.9 623.4,470.2 615.4,472.8 612.8,470.2" fill="none" /><polyline points="592.9,405.2 596.8,406.5 599.5,413.2 600.8,422.4 608.8,430.4 612.8,437 615.4,446.3 618.1,454.3 622,460" fill="none" /><polyline points="592.9,405.2 593.5,417 597,428 605,433 609,441 615,446" fill="none" /><polyline points="571,399 573,403 570,405" fill="none" /></g><g stroke="#fff" stroke-width="3.2"><polyline points="52,141.5 65,145.3 77,151.5" fill="none" /><polyline points="128,163 145.8,163.5 160.9,159.3 191,153 226.4,145.4 264,141.6 299.5,140.3" fill="none" /><polyline points="299.5,140.3 315.2,145.4 340.4,153 365.6,164.3 390.8,175.6 408.4,188.2 426.1,200.8 441.2,213.4 451.3,223.5 456.3,231" fill="none" /><polyline points="662.6,204.7 675.9,214.7 685.9,226.3 695.8,244.5" fill="none" /><polyline points="516,240 530,236 540,230 552,224 564,218 572,215 584,216" fill="none" /></g><g fill="#00009e" opacity="0.85"><rect x="632" y="630" width="8" height="6"/><rect x="638" y="641" width="10" height="17"/><rect x="632" y="650" width="6" height="8"/><rect x="619" y="650" width="8" height="12"/><rect x="604" y="658" width="4" height="7"/><rect x="646" y="655" width="10" height="11"/><rect x="610" y="666" width="6" height="5"/><rect x="627" y="658" width="8" height="5"/><rect x="657" y="666" width="5" height="4"/><rect x="628" y="522" width="8" height="8"/><rect x="636" y="520" width="14" height="14"/><rect x="645" y="528" width="8" height="8"/><rect x="632" y="536" width="6" height="5"/><rect x="608" y="553" width="6" height="5"/><rect x="615" y="556" width="6" height="6"/><rect x="622" y="560" width="5" height="5"/><rect x="630" y="562" width="5" height="4"/><rect x="600" y="560" width="3" height="3"/><rect x="590" y="556" width="3" height="3"/><rect x="612" y="546" width="4" height="3"/><rect x="640" y="548" width="3" height="3"/><rect x="575" y="540" width="3" height="3"/><rect x="560" y="584" width="3" height="3"/><rect x="555" y="600" width="3" height="3"/><rect x="470" y="640" width="3" height="3"/><rect x="480" y="610" width="3" height="3"/><rect x="600" y="610" width="3" height="3"/><rect x="660" y="600" width="3" height="3"/><rect x="668" y="620" width="4" height="4"/><rect x="650" y="590" width="3" height="3"/><rect x="676" y="640" width="4" height="4"/><rect x="690" y="600" width="3" height="3"/><rect x="700" y="650" width="4" height="4"/><rect x="684" y="662" width="5" height="5"/><rect x="520" y="500" width="3" height="3"/><rect x="525" y="510" width="3" height="3"/><rect x="505" y="505" width="3" height="3"/><rect x="498" y="520" width="3" height="3"/><rect x="515" y="525" width="3" height="3"/></g><g fill="#f4f8ff"><rect x="620" y="663" width="15" height="8"/><rect x="604" y="661" width="5" height="5"/><rect x="636" y="634" width="4" height="3"/><rect x="639" y="650" width="5" height="7"/><rect x="648" y="662" width="4" height="4"/><rect x="645" y="524" width="8" height="9"/><rect x="611" y="555" width="3" height="3"/><rect x="568" y="641" width="3" height="3"/><rect x="556" y="655" width="3" height="3"/></g><g font-family="'Liberation Sans', sans-serif" font-size="9" fill="#000"><text x="280" y="265" text-anchor="middle" transform="rotate(34 280 263)">600 ft</text><text x="478" y="475" text-anchor="middle" transform="rotate(46 478 473)">600 ft</text><text x="683" y="522" text-anchor="middle" transform="rotate(62 683 520)">100 ft</text></g><polygon points="40,60 860,60 860,664 847,662 840,642 832,626 826.5,610 822.5,601.3 816.1,595 809.8,590.2 811.4,583.8 816.1,555.2 809.8,553.6 805,548.8 800.2,542.5 793.9,537.7 787.5,534.5 785.9,528.2 790.7,521.8 795.4,505.9 796.2,490 800.3,477.9 805.1,465.2 811.4,442.9 814.6,423.7 814.6,405 813.4,393.2 816.4,385.3 815.4,373.3 809.4,369.4 803.4,359.4 801.5,349.5 797.5,341.5 793.5,335.5 787.5,329.6 777.6,329.6 767.6,328.6 761.7,329.6 757.7,325.6 754.7,315.6 747.7,309.7 741.8,299.7 735.8,289.8 725.9,286.8 719.9,279.8 714.9,275.9 712.9,267.9 713.9,258 704,250 695.8,244.5 685.9,226.3 675.9,214.7 662.6,204.7 639.4,193.1 632,188 626,186 614,188 606,186 600,188 592,190 584,194 582,200 584,208 588,212 584,216 572,215 564,218 552,224 540,230 530,236 516,240 516,234 512,234 508,238 500,242 492,246 470,247 457,248 456,230 450,222 441.2,213.6 426.1,201 408.4,188.4 390.8,175.8 365.6,164.5 340.4,153.2 315.2,145.6 299.5,140.5 264.2,141.8 226.4,145.6 191.1,153.2 160.9,159.5 145.8,163.7 128.4,161 128.4,158.8 126,154 121.2,149.2 118.8,144.4 116.4,138.5 110.5,139.7 106.9,134.9 105.7,123 107.5,118.2 106.9,107.4 104.5,99 95,95.5 93.8,87.8 92,87.8 91.5,95.5 90.2,95.5 87.8,100.9 86.6,108.6 84.2,111 83.6,115.8 81.2,120.6 80.6,142 79.4,151.6 75.9,150.4 69.9,145.6 59.2,143.2 52,142 40,141" fill="#b2b2b2"/><polygon points="470,248 478,248 486,252 484,257 474,258 470,254" fill="#b2b2b2"/><polygon points="488,261 500,261 500,265 488,265" fill="#b2b2b2"/><g fill="#000094"><polygon points="147.2,148 152,150.4 155.6,155.2 160.4,149.2 166.4,145.6 172.4,139.6 176,133.6 174.8,128.8 180.8,128.8 183.2,134.8 178.4,138.4 174.8,145.6 171.2,152.8 164,156.4 158,160 152,160" /><polygon points="204.8,110.8 209.6,112 212,121.6 216.8,128.8 218,131 219.2,128 224,119.2 226.4,109.6 230,108.4 230,114.4 234.8,115.6 233.6,119.2 228.8,120.4 228.8,125.2 236,128.8 243.2,130 244.4,134.8 238.4,133.6 231.2,137.2 218,140.8 209.6,145.6 204.8,151.6 194,152.8 195.2,145.6 200,138.4 204.8,130 206,120.4 204.8,114.4" /><polygon points="288,138 290,130.5 302.6,121.7 307.6,121.7 310.2,126.7 335.4,126.7 345.4,129.2 350.5,143.1 327.8,138 305.1,138" /><polygon points="385,157 392,155 400,160 410,160 418,154 422,158 415,168 405,170 402,175 412,180 425,183 435,190 443,194 440,199 430,197 420,193 408,190 398,180 390,168 386,162" /><polygon points="504.4,73.5 508.8,73.5 508.8,80 512.6,80 524.7,79 524.7,73.5 530.2,73.5 530.2,79 536.8,79.5 536.8,82.3 530.2,82.3 517,84.5 517,89.5 512.6,89.5 512.6,86 504.4,86" /><polygon points="541.2,76.3 545,76.3 545,79.6 541.2,79.6" /><polygon points="812,555.2 807,583.8 811.4,583.8 817.7,579.1 824.1,569.5 828.8,560 836.8,548.8 846.3,539.3 850,536 850,522 844.8,521.8 840,518.6 835.2,520.2 835.2,526.6 833.6,532.9 829.6,531.4 828.8,521.8 824.1,515.4 817.7,510.7 811.4,507.5 807.4,502.7 805,518.6 806.6,521.8 814.5,526.6 818.5,531.4 819.3,537.7 817.7,547.3" /></g><g fill="#fff"><polygon points="508.8,86.2 512.6,86.2 512.6,89.8 517,89.8 516,91.6 510,91.6" /><rect x="505.5" y="76" width="2" height="2"/><rect x="505" y="82" width="2" height="1.5"/><rect x="533" y="80" width="2.5" height="1.5"/></g><g stroke="#fff" stroke-width="1.2" fill="none" opacity="0.9"><polyline points="300,130 306,127 312,129 320,130 328,129 336,131 344,132" fill="none" /><polyline points="206,118 209,124 213,129" fill="none" /><polyline points="196,150 203,146 212,141 225,138 238,134" fill="none" /><polyline points="150,158 158,156 166,150 172,143 178,134" fill="none" /><polyline points="84,118 83,130 82,140" fill="none" /></g></g><rect x="52.5" y="72.5" width="795" height="599" fill="none" stroke="#000" stroke-width="1"/><g stroke="#000" stroke-width="1"><line x1="63.5" y1="66.5" x2="63.5" y2="72.5"/><line x1="63.5" y1="671.5" x2="63.5" y2="677.5"/><line x1="96.5" y1="56.5" x2="96.5" y2="72.5"/><line x1="96.5" y1="671.5" x2="96.5" y2="687.5"/><line x1="130.5" y1="66.5" x2="130.5" y2="72.5"/><line x1="130.5" y1="671.5" x2="130.5" y2="677.5"/><line x1="163.5" y1="56.5" x2="163.5" y2="72.5"/><line x1="163.5" y1="671.5" x2="163.5" y2="687.5"/><line x1="197.5" y1="66.5" x2="197.5" y2="72.5"/><line x1="197.5" y1="671.5" x2="197.5" y2="677.5"/><line x1="230.5" y1="56.5" x2="230.5" y2="72.5"/><line x1="230.5" y1="671.5" x2="230.5" y2="687.5"/><line x1="264.5" y1="66.5" x2="264.5" y2="72.5"/><line x1="264.5" y1="671.5" x2="264.5" y2="677.5"/><line x1="297.5" y1="56.5" x2="297.5" y2="72.5"/><line x1="297.5" y1="671.5" x2="297.5" y2="687.5"/><line x1="331.5" y1="66.5" x2="331.5" y2="72.5"/><line x1="331.5" y1="671.5" x2="331.5" y2="677.5"/><line x1="364.5" y1="56.5" x2="364.5" y2="72.5"/><line x1="364.5" y1="671.5" x2="364.5" y2="687.5"/><line x1="398.5" y1="66.5" x2="398.5" y2="72.5"/><line x1="398.5" y1="671.5" x2="398.5" y2="677.5"/><line x1="431.5" y1="56.5" x2="431.5" y2="72.5"/><line x1="431.5" y1="671.5" x2="431.5" y2="687.5"/><line x1="465.5" y1="66.5" x2="465.5" y2="72.5"/><line x1="465.5" y1="671.5" x2="465.5" y2="677.5"/><line x1="498.5" y1="56.5" x2="498.5" y2="72.5"/><line x1="498.5" y1="671.5" x2="498.5" y2="687.5"/><line x1="532.5" y1="66.5" x2="532.5" y2="72.5"/><line x1="532.5" y1="671.5" x2="532.5" y2="677.5"/><line x1="565.5" y1="56.5" x2="565.5" y2="72.5"/><line x1="565.5" y1="671.5" x2="565.5" y2="687.5"/><line x1="599.5" y1="66.5" x2="599.5" y2="72.5"/><line x1="599.5" y1="671.5" x2="599.5" y2="677.5"/><line x1="632.5" y1="56.5" x2="632.5" y2="72.5"/><line x1="632.5" y1="671.5" x2="632.5" y2="687.5"/><line x1="666.5" y1="66.5" x2="666.5" y2="72.5"/><line x1="666.5" y1="671.5" x2="666.5" y2="677.5"/><line x1="699.5" y1="56.5" x2="699.5" y2="72.5"/><line x1="699.5" y1="671.5" x2="699.5" y2="687.5"/><line x1="733.5" y1="66.5" x2="733.5" y2="72.5"/><line x1="733.5" y1="671.5" x2="733.5" y2="677.5"/><line x1="766.5" y1="56.5" x2="766.5" y2="72.5"/><line x1="766.5" y1="671.5" x2="766.5" y2="687.5"/><line x1="800.5" y1="66.5" x2="800.5" y2="72.5"/><line x1="800.5" y1="671.5" x2="800.5" y2="677.5"/><line x1="833.5" y1="56.5" x2="833.5" y2="72.5"/><line x1="833.5" y1="671.5" x2="833.5" y2="687.5"/><line x1="40.5" y1="660.5" x2="52.5" y2="660.5"/><line x1="847.5" y1="660.5" x2="859.5" y2="660.5"/><line x1="47.5" y1="623.5" x2="52.5" y2="623.5"/><line x1="847.5" y1="623.5" x2="852.5" y2="623.5"/><line x1="40.5" y1="585.5" x2="52.5" y2="585.5"/><line x1="847.5" y1="585.5" x2="859.5" y2="585.5"/><line x1="47.5" y1="547.5" x2="52.5" y2="547.5"/><line x1="847.5" y1="547.5" x2="852.5" y2="547.5"/><line x1="40.5" y1="509.5" x2="52.5" y2="509.5"/><line x1="847.5" y1="509.5" x2="859.5" y2="509.5"/><line x1="47.5" y1="471.5" x2="52.5" y2="471.5"/><line x1="847.5" y1="471.5" x2="852.5" y2="471.5"/><line x1="40.5" y1="433.5" x2="52.5" y2="433.5"/><line x1="847.5" y1="433.5" x2="859.5" y2="433.5"/><line x1="47.5" y1="395.5" x2="52.5" y2="395.5"/><line x1="847.5" y1="395.5" x2="852.5" y2="395.5"/><line x1="40.5" y1="357.5" x2="52.5" y2="357.5"/><line x1="847.5" y1="357.5" x2="859.5" y2="357.5"/><line x1="47.5" y1="319.5" x2="52.5" y2="319.5"/><line x1="847.5" y1="319.5" x2="852.5" y2="319.5"/><line x1="40.5" y1="280.5" x2="52.5" y2="280.5"/><line x1="847.5" y1="280.5" x2="859.5" y2="280.5"/><line x1="47.5" y1="242.5" x2="52.5" y2="242.5"/><line x1="847.5" y1="242.5" x2="852.5" y2="242.5"/><line x1="40.5" y1="203.5" x2="52.5" y2="203.5"/><line x1="847.5" y1="203.5" x2="859.5" y2="203.5"/><line x1="47.5" y1="164.5" x2="52.5" y2="164.5"/><line x1="847.5" y1="164.5" x2="852.5" y2="164.5"/><line x1="40.5" y1="125.5" x2="52.5" y2="125.5"/><line x1="847.5" y1="125.5" x2="859.5" y2="125.5"/><line x1="47.5" y1="86.5" x2="52.5" y2="86.5"/><line x1="847.5" y1="86.5" x2="852.5" y2="86.5"/></g><g font-family="'Liberation Sans', sans-serif" font-size="11.5" fill="#000"><g letter-spacing="0.4"><text x="95.4" y="697.5" text-anchor="middle">-88&#176;&#160;&#160;0'</text><text x="229.4" y="697.5" text-anchor="middle">-87&#176;&#160;&#160;0'</text><text x="363.4" y="697.5" text-anchor="middle">-86&#176;&#160;&#160;0'</text><text x="497.4" y="697.5" text-anchor="middle">-85&#176;&#160;&#160;0'</text><text x="631.4" y="697.5" text-anchor="middle">-84&#176;&#160;&#160;0'</text><text x="765.4" y="697.5" text-anchor="middle">-83&#176;&#160;&#160;0'</text><text x="38" y="207.6" text-anchor="end">30&#176;&#160;&#160;0'</text><text x="38" y="361.2" text-anchor="end">29&#176;&#160;&#160;0'</text><text x="38" y="513.2" text-anchor="end">28&#176;&#160;&#160;0'</text><text x="38" y="664.7" text-anchor="end">27&#176;&#160;&#160;0'</text></g><rect x="918.5" y="728" width="45" height="11" fill="#000087"/><rect x="918.5" y="716" width="45" height="12" fill="#000097"/><rect x="918.5" y="705" width="45" height="11" fill="#0000a7"/><rect x="918.5" y="693" width="45" height="12" fill="#0000b7"/><rect x="918.5" y="682" width="45" height="11" fill="#0000c7"/><rect x="918.5" y="670" width="45" height="12" fill="#0000d7"/><rect x="918.5" y="659" width="45" height="11" fill="#0000e7"/><rect x="918.5" y="647" width="45" height="12" fill="#0000f7"/><rect x="918.5" y="636" width="45" height="11" fill="#0008ff"/><rect x="918.5" y="624" width="45" height="12" fill="#0018ff"/><rect x="918.5" y="613" width="45" height="11" fill="#0028ff"/><rect x="918.5" y="601" width="45" height="12" fill="#0038ff"/><rect x="918.5" y="590" width="45" height="11" fill="#0048ff"/><rect x="918.5" y="578" width="45" height="12" fill="#0058ff"/><rect x="918.5" y="567" width="45" height="11" fill="#0068ff"/><rect x="918.5" y="556" width="45" height="11" fill="#0078ff"/><rect x="918.5" y="544" width="45" height="12" fill="#0087ff"/><rect x="918.5" y="533" width="45" height="11" fill="#0097ff"/><rect x="918.5" y="521" width="45" height="12" fill="#00a7ff"/><rect x="918.5" y="510" width="45" height="11" fill="#00b7ff"/><rect x="918.5" y="498" width="45" height="12" fill="#00c7ff"/><rect x="918.5" y="487" width="45" height="11" fill="#00d7ff"/><rect x="918.5" y="475" width="45" height="12" fill="#00e7ff"/><rect x="918.5" y="464" width="45" height="11" fill="#00f7ff"/><rect x="918.5" y="452" width="45" height="12" fill="#08fff7"/><rect x="918.5" y="441" width="45" height="11" fill="#18ffe7"/><rect x="918.5" y="429" width="45" height="12" fill="#28ffd7"/><rect x="918.5" y="418" width="45" height="11" fill="#38ffc7"/><rect x="918.5" y="406" width="45" height="12" fill="#48ffb7"/><rect x="918.5" y="395" width="45" height="11" fill="#58ffa7"/><rect x="918.5" y="383" width="45" height="12" fill="#68ff97"/><rect x="918.5" y="372" width="45" height="11" fill="#78ff87"/><rect x="918.5" y="361" width="45" height="11" fill="#87ff78"/><rect x="918.5" y="349" width="45" height="12" fill="#97ff68"/><rect x="918.5" y="338" width="45" height="11" fill="#a7ff58"/><rect x="918.5" y="326" width="45" height="12" fill="#b7ff48"/><rect x="918.5" y="315" width="45" height="11" fill="#c7ff38"/><rect x="918.5" y="303" width="45" height="12" fill="#d7ff28"/><rect x="918.5" y="292" width="45" height="11" fill="#e7ff18"/><rect x="918.5" y="280" width="45" height="12" fill="#f7ff08"/><rect x="918.5" y="269" width="45" height="11" fill="#fff700"/><rect x="918.5" y="257" width="45" height="12" fill="#ffe700"/><rect x="918.5" y="246" width="45" height="11" fill="#ffd700"/><rect x="918.5" y="234" width="45" height="12" fill="#ffc700"/><rect x="918.5" y="223" width="45" height="11" fill="#ffb700"/><rect x="918.5" y="211" width="45" height="12" fill="#ffa700"/><rect x="918.5" y="200" width="45" height="11" fill="#ff9700"/><rect x="918.5" y="188" width="45" height="12" fill="#ff8700"/><rect x="918.5" y="177" width="45" height="11" fill="#ff7800"/><rect x="918.5" y="166" width="45" height="11" fill="#ff6800"/><rect x="918.5" y="154" width="45" height="12" fill="#ff5800"/><rect x="918.5" y="143" width="45" height="11" fill="#ff4800"/><rect x="918.5" y="131" width="45" height="12" fill="#ff3800"/><rect x="918.5" y="120" width="45" height="11" fill="#ff2800"/><rect x="918.5" y="108" width="45" height="12" fill="#ff1800"/><rect x="918.5" y="97" width="45" height="11" fill="#ff0800"/><rect x="918.5" y="85" width="45" height="12" fill="#f70000"/><rect x="918.5" y="74" width="45" height="11" fill="#e70000"/><rect x="918.5" y="62" width="45" height="12" fill="#d70000"/><rect x="918.5" y="51" width="45" height="11" fill="#c70000"/><rect x="918.5" y="39" width="45" height="12" fill="#b70000"/><rect x="918.5" y="28" width="45" height="11" fill="#a70000"/><rect x="918.5" y="16" width="45" height="12" fill="#970000"/><rect x="918.5" y="5" width="45" height="11" fill="#870000"/><rect x="918.5" y="5" width="45" height="734" fill="none" stroke="#000" stroke-width="1"/><line x1="915" y1="40.5" x2="921" y2="40.5" stroke="#000"/><text x="909" y="43.7" text-anchor="end">85&#176;F</text><line x1="915" y1="156.5" x2="921" y2="156.5" stroke="#000"/><text x="909" y="160.3" text-anchor="end">83&#176;F</text><line x1="915" y1="273.5" x2="921" y2="273.5" stroke="#000"/><text x="909" y="276.9" text-anchor="end">81&#176;F</text><line x1="915" y1="389.5" x2="921" y2="389.5" stroke="#000"/><text x="909" y="393.5" text-anchor="end">79&#176;F</text><line x1="915" y1="506.5" x2="921" y2="506.5" stroke="#000"/><text x="909" y="510.1" text-anchor="end">77&#176;F</text><line x1="915" y1="622.5" x2="921" y2="622.5" stroke="#000"/><text x="909" y="626.7" text-anchor="end">75&#176;F</text><text x="903.5" y="742.2" text-anchor="end">73&#176;F</text><line x1="958" y1="634.5" x2="964" y2="634.5" stroke="#000"/><text x="969.5" y="638.343">24&#176;C</text><line x1="958" y1="529.5" x2="964" y2="529.5" stroke="#000"/><text x="969.5" y="533.486">25&#176;C</text><line x1="958" y1="424.5" x2="964" y2="424.5" stroke="#000"/><text x="969.5" y="428.629">26&#176;C</text><line x1="958" y1="320.5" x2="964" y2="320.5" stroke="#000"/><text x="969.5" y="323.771">27&#176;C</text><line x1="958" y1="215.5" x2="964" y2="215.5" stroke="#000"/><text x="969.5" y="218.914">28&#176;C</text><line x1="958" y1="110.5" x2="964" y2="110.5" stroke="#000"/><text x="969.5" y="114.057">29&#176;C</text><text x="969.5" y="10.2">30&#176;C</text><text x="975.5" y="744.2">23&#176;C</text></g></svg></body></html>
